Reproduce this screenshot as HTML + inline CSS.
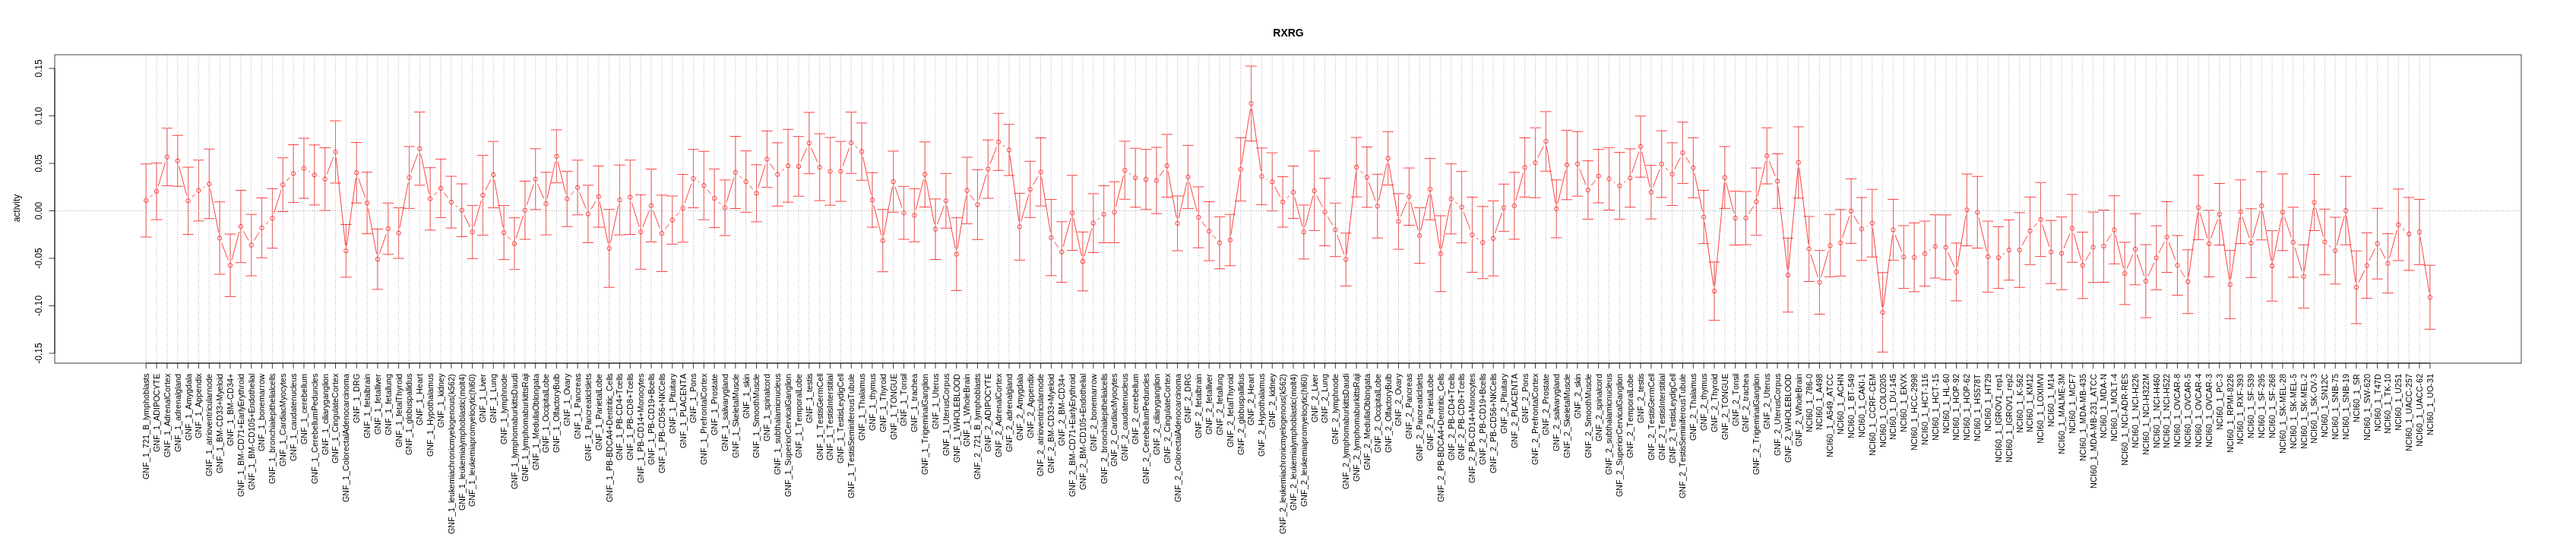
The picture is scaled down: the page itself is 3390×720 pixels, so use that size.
<!DOCTYPE html>
<html><head><meta charset="utf-8"><style>html,body{margin:0;padding:0;background:#fff;}body{width:3390px;height:720px;overflow:hidden;font-family:"Liberation Sans",sans-serif;}svg{display:block;}</style></head>
<body><svg width="3390" height="720" viewBox="0 0 3390 720"><rect x="0" y="0" width="3390" height="720" fill="#fff"/><path d="M192.20 215.80V312.00M184.90 215.80H199.50M184.90 312.00H199.50M206.05 214.70V289.10M198.75 214.70H213.35M198.75 289.10H213.35M219.90 168.70V244.30M212.60 168.70H227.20M212.60 244.30H227.20M233.75 178.20V245.20M226.45 178.20H241.05M226.45 245.20H241.05M247.60 220.00V308.60M240.30 220.00H254.90M240.30 308.60H254.90M261.45 210.70V290.90M254.15 210.70H268.75M254.15 290.90H268.75M275.31 196.20V287.80M268.01 196.20H282.61M268.01 287.80H282.61M289.16 265.80V361.00M281.86 265.80H296.46M281.86 361.00H296.46M303.01 308.10V390.50M295.71 308.10H310.31M295.71 390.50H310.31M316.86 250.50V345.70M309.56 250.50H324.16M309.56 345.70H324.16M330.71 282.20V363.00M323.41 282.20H338.01M323.41 363.00H338.01M344.56 260.50V339.30M337.26 260.50H351.86M337.26 339.30H351.86M358.41 248.30V326.70M351.11 248.30H365.71M351.11 326.70H365.71M372.26 207.70V278.50M364.96 207.70H379.56M364.96 278.50H379.56M386.11 190.50V266.50M378.81 190.50H393.41M378.81 266.50H393.41M399.97 182.00V261.00M392.67 182.00H407.27M392.67 261.00H407.27M413.82 190.80V269.80M406.52 190.80H421.12M406.52 269.80H421.12M427.67 194.50V277.10M420.37 194.50H434.97M420.37 277.10H434.97M441.52 159.00V241.00M434.22 159.00H448.82M434.22 241.00H448.82M455.37 295.50V364.90M448.07 295.50H462.67M448.07 364.90H462.67M469.22 187.60V267.20M461.92 187.60H476.52M461.92 267.20H476.52M483.07 226.70V307.70M475.77 226.70H490.37M475.77 307.70H490.37M496.92 301.50V380.90M489.62 301.50H504.22M489.62 380.90H504.22M510.77 267.20V334.80M503.47 267.20H518.07M503.47 334.80H518.07M524.62 273.50V340.10M517.32 273.50H531.92M517.32 340.10H531.92M538.48 192.90V274.30M531.18 192.90H545.77M531.18 274.30H545.77M552.33 147.40V243.80M545.03 147.40H559.63M545.03 243.80H559.63M566.18 220.70V302.90M558.88 220.70H573.48M558.88 302.90H573.48M580.03 209.40V286.40M572.73 209.40H587.33M572.73 286.40H587.33M593.88 232.00V300.20M586.58 232.00H601.18M586.58 300.20H601.18M607.73 242.00V311.40M600.43 242.00H615.03M600.43 311.40H615.03M621.58 270.40V340.40M614.28 270.40H628.88M614.28 340.40H628.88M635.43 204.40V309.60M628.13 204.40H642.73M628.13 309.60H642.73M649.28 186.20V273.60M641.98 186.20H656.58M641.98 273.60H656.58M663.13 270.50V341.70M655.83 270.50H670.43M655.83 341.70H670.43M676.99 286.70V354.70M669.69 286.70H684.28M669.69 354.70H684.28M690.84 238.40V315.00M683.54 238.40H698.14M683.54 315.00H698.14M704.69 195.80V275.80M697.39 195.80H711.99M697.39 275.80H711.99M718.54 226.80V309.20M711.24 226.80H725.84M711.24 309.20H725.84M732.39 170.90V240.70M725.09 170.90H739.69M725.09 240.70H739.69M746.24 225.40V298.20M738.94 225.40H753.54M738.94 298.20H753.54M760.09 210.80V282.80M752.79 210.80H767.39M752.79 282.80H767.39M773.94 243.80V319.40M766.64 243.80H781.24M766.64 319.40H781.24M787.79 218.50V299.10M780.49 218.50H795.09M780.49 299.10H795.09M801.64 275.70V378.30M794.34 275.70H808.94M794.34 378.30H808.94M815.50 217.20V309.20M808.20 217.20H822.80M808.20 309.20H822.80M829.35 210.70V308.50M822.05 210.70H836.65M822.05 308.50H836.65M843.20 256.40V354.40M835.90 256.40H850.50M835.90 354.40H850.50M857.05 222.50V318.50M849.75 222.50H864.35M849.75 318.50H864.35M870.90 256.90V357.50M863.60 256.90H878.20M863.60 357.50H878.20M884.75 258.00V321.40M877.45 258.00H892.05M877.45 321.40H892.05M898.60 229.60V318.80M891.30 229.60H905.90M891.30 318.80H905.90M912.45 196.70V273.50M905.15 196.70H919.75M905.15 273.50H919.75M926.30 199.20V289.20M919.00 199.20H933.60M919.00 289.20H933.60M940.15 222.40V299.60M932.85 222.40H947.45M932.85 299.60H947.45M954.01 236.90V310.10M946.71 236.90H961.31M946.71 310.10H961.31M967.86 179.50V274.50M960.56 179.50H975.16M960.56 274.50H975.16M981.71 198.60V279.60M974.41 198.60H989.01M974.41 279.60H989.01M995.56 216.80V292.00M988.26 216.80H1002.86M988.26 292.00H1002.86M1009.41 172.40V246.60M1002.11 172.40H1016.71M1002.11 246.60H1016.71M1023.26 187.90V271.30M1015.96 187.90H1030.56M1015.96 271.30H1030.56M1037.11 170.30V266.10M1029.81 170.30H1044.41M1029.81 266.10H1044.41M1050.96 179.70V258.30M1043.66 179.70H1058.26M1043.66 258.30H1058.26M1064.81 147.90V228.70M1057.51 147.90H1072.11M1057.51 228.70H1072.11M1078.66 176.10V264.10M1071.36 176.10H1085.96M1071.36 264.10H1085.96M1092.52 181.00V270.20M1085.22 181.00H1099.82M1085.22 270.20H1099.82M1106.37 186.10V265.10M1099.07 186.10H1113.67M1099.07 265.10H1113.67M1120.22 147.50V228.30M1112.92 147.50H1127.52M1112.92 228.30H1127.52M1134.07 161.90V237.30M1126.77 161.90H1141.37M1126.77 237.30H1141.37M1147.92 227.30V299.10M1140.62 227.30H1155.22M1140.62 299.10H1155.22M1161.77 275.70V357.70M1154.47 275.70H1169.07M1154.47 357.70H1169.07M1175.62 198.90V279.30M1168.32 198.90H1182.92M1168.32 279.30H1182.92M1189.47 245.40V315.00M1182.17 245.40H1196.77M1182.17 315.00H1196.77M1203.32 248.40V318.40M1196.02 248.40H1210.62M1196.02 318.40H1210.62M1217.17 186.80V272.40M1209.87 186.80H1224.47M1209.87 272.40H1224.47M1231.03 261.90V341.50M1223.73 261.90H1238.33M1223.73 341.50H1238.33M1244.88 228.30V300.30M1237.58 228.30H1252.18M1237.58 300.30H1252.18M1258.73 286.70V382.50M1251.43 286.70H1266.03M1251.43 382.50H1266.03M1272.58 207.00V294.60M1265.28 207.00H1279.88M1265.28 294.60H1279.88M1286.43 223.40V315.40M1279.13 223.40H1293.73M1279.13 315.40H1293.73M1300.28 184.20V261.00M1292.98 184.20H1307.58M1292.98 261.00H1307.58M1314.13 149.30V224.30M1306.83 149.30H1321.43M1306.83 224.30H1321.43M1327.98 163.80V231.00M1320.68 163.80H1335.28M1320.68 231.00H1335.28M1341.83 254.40V342.40M1334.53 254.40H1349.13M1334.53 342.40H1349.13M1355.68 212.30V286.30M1348.38 212.30H1362.98M1348.38 286.30H1362.98M1369.54 181.50V271.10M1362.24 181.50H1376.84M1362.24 271.10H1376.84M1383.39 262.60V362.80M1376.09 262.60H1390.69M1376.09 362.80H1390.69M1397.24 291.80V371.60M1389.94 291.80H1404.54M1389.94 371.60H1404.54M1411.09 230.80V329.60M1403.79 230.80H1418.39M1403.79 329.60H1418.39M1424.94 305.30V382.90M1417.64 305.30H1432.24M1417.64 382.90H1432.24M1438.79 254.90V332.50M1431.49 254.90H1446.09M1431.49 332.50H1446.09M1452.64 244.50V319.50M1445.34 244.50H1459.94M1445.34 319.50H1459.94M1466.49 239.30V319.50M1459.19 239.30H1473.79M1459.19 319.50H1473.79M1480.34 185.90V262.30M1473.04 185.90H1487.64M1473.04 262.30H1487.64M1494.19 195.20V272.80M1486.89 195.20H1501.49M1486.89 272.80H1501.49M1508.05 196.70V275.70M1500.75 196.70H1515.35M1500.75 275.70H1515.35M1521.90 194.00V281.20M1514.60 194.00H1529.20M1514.60 281.20H1529.20M1535.75 176.90V259.50M1528.45 176.90H1543.05M1528.45 259.50H1543.05M1549.60 258.00V330.00M1542.30 258.00H1556.90M1542.30 330.00H1556.90M1563.45 191.40V274.40M1556.15 191.40H1570.75M1556.15 274.40H1570.75M1577.30 245.90V326.10M1570.00 245.90H1584.60M1570.00 326.10H1584.60M1591.15 265.50V343.10M1583.85 265.50H1598.45M1583.85 343.10H1598.45M1605.00 285.40V353.80M1597.70 285.40H1612.30M1597.70 353.80H1612.30M1618.85 282.20V349.80M1611.55 282.20H1626.15M1611.55 349.80H1626.15M1632.70 181.30V264.70M1625.40 181.30H1640.00M1625.40 264.70H1640.00M1646.56 87.00V185.60M1639.26 87.00H1653.86M1639.26 185.60H1653.86M1660.41 194.80V269.40M1653.11 194.80H1667.71M1653.11 269.40H1667.71M1674.26 201.10V277.70M1666.96 201.10H1681.56M1666.96 277.70H1681.56M1688.11 232.60V299.00M1680.81 232.60H1695.41M1680.81 299.00H1695.41M1701.96 218.60V287.40M1694.66 218.60H1709.26M1694.66 287.40H1709.26M1715.81 269.90V340.90M1708.51 269.90H1723.11M1708.51 340.90H1723.11M1729.66 198.80V303.40M1722.36 198.80H1736.96M1722.36 303.40H1736.96M1743.51 234.60V323.60M1736.21 234.60H1750.81M1736.21 323.60H1750.81M1757.36 267.30V337.70M1750.06 267.30H1764.66M1750.06 337.70H1764.66M1771.21 306.80V376.40M1763.91 306.80H1778.51M1763.91 376.40H1778.51M1785.07 181.00V259.20M1777.77 181.00H1792.37M1777.77 259.20H1792.37M1798.92 193.50V272.90M1791.62 193.50H1806.22M1791.62 272.90H1806.22M1812.77 229.30V313.30M1805.47 229.30H1820.07M1805.47 313.30H1820.07M1826.62 173.30V243.50M1819.32 173.30H1833.92M1819.32 243.50H1833.92M1840.47 254.90V328.10M1833.17 254.90H1847.77M1833.17 328.10H1847.77M1854.32 221.10V296.50M1847.02 221.10H1861.62M1847.02 296.50H1861.62M1868.17 273.50V346.70M1860.87 273.50H1875.47M1860.87 346.70H1875.47M1882.02 208.70V289.30M1874.72 208.70H1889.32M1874.72 289.30H1889.32M1895.87 284.00V383.80M1888.57 284.00H1903.17M1888.57 383.80H1903.17M1909.72 215.70V307.90M1902.42 215.70H1917.02M1902.42 307.90H1917.02M1923.58 225.70V319.70M1916.28 225.70H1930.88M1916.28 319.70H1930.88M1937.43 259.60V358.40M1930.13 259.60H1944.73M1930.13 358.40H1944.73M1951.28 271.80V366.80M1943.98 271.80H1958.58M1943.98 366.80H1958.58M1965.13 264.40V363.20M1957.83 264.40H1972.43M1957.83 363.20H1972.43M1978.98 242.30V304.70M1971.68 242.30H1986.28M1971.68 304.70H1986.28M1992.83 226.90V314.90M1985.53 226.90H2000.13M1985.53 314.90H2000.13M2006.68 181.40V259.40M1999.38 181.40H2013.98M1999.38 259.40H2013.98M2020.53 168.20V260.20M2013.23 168.20H2027.83M2013.23 260.20H2027.83M2034.38 146.90V225.30M2027.08 146.90H2041.68M2027.08 225.30H2041.68M2048.23 236.80V313.00M2040.93 236.80H2055.53M2040.93 313.00H2055.53M2062.09 171.40V262.80M2054.78 171.40H2069.39M2054.78 262.80H2069.39M2075.94 173.20V258.20M2068.64 173.20H2083.24M2068.64 258.20H2083.24M2089.79 211.70V288.50M2082.49 211.70H2097.09M2082.49 288.50H2097.09M2103.64 196.60V267.00M2096.34 196.60H2110.94M2096.34 267.00H2110.94M2117.49 194.30V276.50M2110.19 194.30H2124.79M2110.19 276.50H2124.79M2131.34 200.60V288.60M2124.04 200.60H2138.64M2124.04 288.60H2138.64M2145.19 195.90V272.70M2137.89 195.90H2152.49M2137.89 272.70H2152.49M2159.04 152.80V233.20M2151.74 152.80H2166.34M2151.74 233.20H2166.34M2172.89 217.70V288.30M2165.59 217.70H2180.19M2165.59 288.30H2180.19M2186.74 172.10V259.90M2179.44 172.10H2194.04M2179.44 259.90H2194.04M2200.60 187.90V270.50M2193.30 187.90H2207.90M2193.30 270.50H2207.90M2214.45 160.80V241.40M2207.15 160.80H2221.75M2207.15 241.40H2221.75M2228.30 181.30V260.30M2221.00 181.30H2235.60M2221.00 260.30H2235.60M2242.15 250.60V320.60M2234.85 250.60H2249.45M2234.85 320.60H2249.45M2256.00 344.90V421.70M2248.70 344.90H2263.30M2248.70 421.70H2263.30M2269.85 192.90V274.30M2262.55 192.90H2277.15M2262.55 274.30H2277.15M2283.70 251.70V322.50M2276.40 251.70H2291.00M2276.40 322.50H2291.00M2297.55 252.10V322.10M2290.25 252.10H2304.85M2290.25 322.10H2304.85M2311.40 221.10V309.70M2304.10 221.10H2318.70M2304.10 309.70H2318.70M2325.25 168.20V242.00M2317.95 168.20H2332.55M2317.95 242.00H2332.55M2339.11 202.50V274.30M2331.80 202.50H2346.41M2331.80 274.30H2346.41M2352.96 313.40V410.80M2345.66 313.40H2360.26M2345.66 410.80H2360.26M2366.81 166.90V260.90M2359.51 166.90H2374.11M2359.51 260.90H2374.11M2380.66 284.90V370.50M2373.36 284.90H2387.96M2373.36 370.50H2387.96M2394.51 329.70V413.50M2387.21 329.70H2401.81M2387.21 413.50H2401.81M2408.36 282.20V364.40M2401.06 282.20H2415.66M2401.06 364.40H2415.66M2422.21 275.80V363.40M2414.91 275.80H2429.51M2414.91 363.40H2429.51M2436.06 235.30V320.30M2428.76 235.30H2443.36M2428.76 320.30H2443.36M2449.91 260.00V342.80M2442.61 260.00H2457.21M2442.61 342.80H2457.21M2463.76 249.20V338.20M2456.46 249.20H2471.06M2456.46 338.20H2471.06M2477.61 358.80V463.40M2470.31 358.80H2484.91M2470.31 463.40H2484.91M2491.47 262.40V342.60M2484.17 262.40H2498.77M2484.17 342.60H2498.77M2505.32 297.00V379.60M2498.02 297.00H2512.62M2498.02 379.60H2512.62M2519.17 293.40V384.00M2511.87 293.40H2526.47M2511.87 384.00H2526.47M2533.02 291.10V376.70M2525.72 291.10H2540.32M2525.72 376.70H2540.32M2546.87 282.70V366.10M2539.57 282.70H2554.17M2539.57 366.10H2554.17M2560.72 282.90V368.10M2553.42 282.90H2568.02M2553.42 368.10H2568.02M2574.57 320.00V396.00M2567.27 320.00H2581.87M2567.27 396.00H2581.87M2588.42 229.00V323.60M2581.12 229.00H2595.72M2581.12 323.60H2595.72M2602.27 232.20V326.60M2594.97 232.20H2609.57M2594.97 326.60H2609.57M2616.12 291.10V384.70M2608.82 291.10H2623.43M2608.82 384.70H2623.43M2629.98 298.40V379.60M2622.68 298.40H2637.28M2622.68 379.60H2637.28M2643.83 289.40V368.80M2636.53 289.40H2651.13M2636.53 368.80H2651.13M2657.68 279.90V378.30M2650.38 279.90H2664.98M2650.38 378.30H2664.98M2671.53 259.40V348.40M2664.23 259.40H2678.83M2664.23 348.40H2678.83M2685.38 240.20V337.60M2678.08 240.20H2692.68M2678.08 337.60H2692.68M2699.23 290.20V373.20M2691.93 290.20H2706.53M2691.93 373.20H2706.53M2713.08 285.60V381.40M2705.78 285.60H2720.38M2705.78 381.40H2720.38M2726.93 255.90V345.30M2719.63 255.90H2734.23M2719.63 345.30H2734.23M2740.78 305.60V393.00M2733.48 305.60H2748.08M2733.48 393.00H2748.08M2754.63 279.10V371.90M2747.33 279.10H2761.93M2747.33 371.90H2761.93M2768.49 276.50V371.50M2761.19 276.50H2775.79M2761.19 371.50H2775.79M2782.34 257.70V347.30M2775.04 257.70H2789.64M2775.04 347.30H2789.64M2796.19 318.90V400.90M2788.89 318.90H2803.49M2788.89 400.90H2803.49M2810.04 281.30V374.90M2802.74 281.30H2817.34M2802.74 374.90H2817.34M2823.89 322.00V418.20M2816.59 322.00H2831.19M2816.59 418.20H2831.19M2837.74 297.20V381.60M2830.44 297.20H2845.04M2830.44 381.60H2845.04M2851.59 265.50V358.50M2844.29 265.50H2858.89M2844.29 358.50H2858.89M2865.44 310.00V388.60M2858.14 310.00H2872.74M2858.14 388.60H2872.74M2879.29 328.80V412.80M2871.99 328.80H2886.59M2871.99 412.80H2886.59M2893.14 230.60V315.60M2885.84 230.60H2900.45M2885.84 315.60H2900.45M2907.00 276.90V364.50M2899.70 276.90H2914.30M2899.70 364.50H2914.30M2920.85 241.50V322.50M2913.55 241.50H2928.15M2913.55 322.50H2928.15M2934.70 329.70V419.30M2927.40 329.70H2942.00M2927.40 419.30H2942.00M2948.55 236.80V320.60M2941.25 236.80H2955.85M2941.25 320.60H2955.85M2962.40 274.80V365.20M2955.10 274.80H2969.70M2955.10 365.20H2969.70M2976.25 226.00V315.80M2968.95 226.00H2983.55M2968.95 315.80H2983.55M2990.10 303.60V396.40M2982.80 303.60H2997.40M2982.80 396.40H2997.40M3003.95 228.90V329.90M2996.65 228.90H3011.25M2996.65 329.90H3011.25M3017.80 272.80V365.00M3010.50 272.80H3025.10M3010.50 365.00H3025.10M3031.66 322.20V405.60M3024.36 322.20H3038.96M3024.36 405.60H3038.96M3045.51 229.50V303.50M3038.21 229.50H3052.81M3038.21 303.50H3052.81M3059.36 275.30V361.70M3052.06 275.30H3066.66M3052.06 361.70H3066.66M3073.21 286.00V373.80M3065.91 286.00H3080.51M3065.91 373.80H3080.51M3087.06 232.20V322.20M3079.76 232.20H3094.36M3079.76 322.20H3094.36M3100.91 330.20V426.00M3093.61 330.20H3108.21M3093.61 426.00H3108.21M3114.76 306.60V392.60M3107.46 306.60H3122.06M3107.46 392.60H3122.06M3128.61 274.20V367.20M3121.31 274.20H3135.91M3121.31 367.20H3135.91M3142.46 307.70V385.70M3135.16 307.70H3149.76M3135.16 385.70H3149.76M3156.31 248.80V343.00M3149.01 248.80H3163.61M3149.01 343.00H3163.61M3170.16 259.90V355.90M3162.86 259.90H3177.47M3162.86 355.90H3177.47M3184.02 262.40V348.40M3176.72 262.40H3191.32M3176.72 348.40H3191.32M3197.87 349.20V433.40M3190.57 349.20H3205.17M3190.57 433.40H3205.17M197.64 259.19L200.61 256.61M208.15 245.01L217.80 213.39M226.64 209.03L227.01 209.17M235.59 218.66L245.77 257.34M252.76 259.27L256.30 255.83M267.53 246.94L269.23 245.86M276.68 249.07L287.79 306.33M291.75 320.12L300.42 342.58M304.89 342.35L314.98 305.05M320.40 304.37L327.17 316.33M334.46 316.45L340.81 306.05M349.93 295.10L353.05 292.30M360.56 280.63L370.12 249.97M377.22 237.88L381.16 233.72M392.54 225.25L393.54 224.75M406.04 225.36L407.74 226.44M420.51 232.96L420.98 233.14M430.27 229.09L438.92 206.71M442.28 207.16L454.61 323.04M456.33 323.06L468.26 234.54M471.59 234.20L480.70 260.40M484.40 274.28L495.60 334.12M499.27 334.39L508.43 307.81M517.41 303.78L517.98 304.02M525.96 299.73L537.14 240.67M540.94 226.84L549.86 202.36M553.80 202.65L564.70 254.75M571.26 256.70L574.95 253.00M584.39 253.63L589.52 260.37M599.60 270.48L602.01 272.32M610.86 283.18L618.45 298.92M623.56 298.48L633.45 263.92M638.71 250.59L646.01 236.31M650.57 236.98L661.85 299.02M668.09 311.32L672.03 315.48M679.15 313.83L688.67 283.57M693.15 269.88L702.38 242.62M707.53 242.41L715.69 261.39M720.10 260.97L730.82 212.83M734.12 212.79L744.51 254.81M751.12 256.51L755.21 252.09M762.75 253.49L771.28 274.91M777.68 275.45L784.05 264.95M789.23 265.86L800.21 319.94M803.17 319.96L813.97 270.24M831.43 266.49L841.11 298.51M845.85 298.71L854.39 277.19M859.59 277.24L868.36 300.46M875.37 301.55L880.28 295.35M889.55 284.33L893.80 279.57M901.01 267.41L910.05 241.89M918.47 239.05L920.29 240.25M930.88 249.76L935.57 255.44M945.50 265.82L948.66 268.68M956.06 266.60L965.80 233.90M973.28 231.74L976.28 234.36M986.54 244.44L990.73 249.06M997.68 247.52L1007.29 216.38M1013.49 215.43L1019.17 223.67M1028.82 225.02L1031.55 222.78M1053.92 212.44L1061.85 194.86M1067.69 194.90L1075.79 213.50M1085.36 222.76L1085.82 222.94M1108.85 218.84L1117.73 194.66M1125.72 192.55L1128.57 194.95M1135.60 206.64L1146.39 256.16M1149.72 270.17L1159.97 309.73M1163.04 309.61L1174.36 246.19M1177.92 245.92L1187.17 273.38M1205.12 276.43L1215.38 236.57M1218.53 236.67L1229.67 294.63M1233.53 294.95L1242.38 271.05M1246.27 271.36L1257.34 327.54M1259.90 327.50L1271.40 257.90M1276.88 256.57L1282.13 263.63M1288.47 262.50L1298.24 229.50M1302.88 215.89L1311.53 193.51M1319.85 191.18L1322.26 193.02M1328.96 204.53L1340.85 291.27M1343.79 291.47L1353.73 256.23M1359.40 243.13L1365.82 232.47M1370.67 233.41L1382.25 305.59M1387.63 318.52L1393.00 325.88M1399.11 324.75L1409.22 287.15M1412.61 287.24L1423.41 337.06M1426.85 337.16L1436.88 300.64M1444.29 289.05L1447.14 286.65M1468.24 272.42L1478.59 231.08M1486.20 228.29L1488.34 229.81M1526.08 231.74L1531.56 224.06M1537.04 225.28L1548.30 286.92M1551.19 286.98L1561.86 239.92M1565.27 239.87L1575.48 279.03M1581.65 291.74L1586.81 298.56M1595.98 309.64L1600.17 314.26M1619.91 308.88L1631.64 230.12M1633.84 215.89L1645.42 143.41M1647.59 143.43L1659.38 224.97M1666.78 235.46L1667.89 236.04M1677.60 245.78L1684.76 259.42M1693.40 260.91L1696.67 257.89M1703.80 259.96L1713.97 298.44M1717.59 298.42L1727.88 258.08M1732.85 257.55L1740.32 272.65M1747.18 285.30L1753.70 296.30M1759.77 309.29L1768.81 334.81M1772.03 334.45L1784.25 227.25M1790.30 225.05L1793.68 228.25M1801.38 239.97L1810.31 264.53M1814.32 264.27L1825.07 215.43M1827.80 215.50L1839.29 284.40M1843.28 284.87L1851.51 265.43M1856.20 265.75L1866.29 303.15M1869.76 303.08L1880.43 256.02M1883.18 256.11L1894.71 326.79M1897.23 326.83L1908.37 268.87M1915.38 266.25L1917.92 268.25M1926.14 279.43L1934.86 302.27M1943.20 313.30L1945.50 315.00M1957.97 316.64L1958.44 316.46M1967.47 306.99L1976.64 280.31M1994.73 263.96L2004.78 227.34M2013.25 217.46L2013.96 217.14M2023.72 207.74L2031.20 192.56M2035.49 193.21L2047.12 267.79M2049.91 267.90L2060.41 224.10M2078.63 222.38L2087.10 243.42M2094.13 244.36L2099.29 237.54M2123.49 239.38L2125.34 240.62M2137.12 240.30L2139.41 238.60M2147.48 227.47L2156.75 199.83M2160.66 200.02L2171.27 245.98M2175.42 246.26L2184.22 222.74M2191.96 220.97L2195.38 224.23M2203.78 222.74L2211.26 207.56M2218.59 206.99L2224.16 214.91M2229.80 227.84L2240.64 278.56M2243.16 292.73L2254.99 376.17M2256.66 376.13L2269.19 240.77M2271.65 240.57L2281.90 280.13M2301.43 281.03L2307.53 271.47M2313.01 258.38L2323.64 212.12M2328.02 211.75L2336.34 231.75M2339.91 245.56L2352.15 354.94M2353.63 354.93L2366.14 221.07M2367.68 221.05L2379.79 320.55M2382.82 334.57L2392.34 364.73M2396.49 364.68L2406.38 330.22M2424.48 312.77L2433.80 284.63M2439.71 284.01L2446.27 295.19M2456.21 297.90L2457.47 297.20M2464.61 300.85L2476.77 403.95M2478.53 403.96L2490.56 309.64M2494.06 309.21L2502.72 331.59M2525.97 336.34L2526.22 336.26M2538.96 329.83L2540.93 328.47M2563.54 332.12L2571.75 351.38M2575.78 350.90L2587.22 283.40M2603.93 286.41L2614.47 330.89M2635.83 334.81L2637.97 333.29M2661.15 322.79L2668.06 310.21M2676.41 298.61L2680.50 294.19M2687.60 295.75L2697.01 324.85M2715.88 326.86L2724.14 307.24M2728.90 307.53L2738.81 342.37M2744.41 343.08L2751.01 331.72M2772.39 317.95L2778.44 308.55M2784.03 309.50L2794.50 352.90M2799.06 353.30L2807.16 334.70M2812.29 334.94L2821.64 363.26M2826.85 363.54L2834.78 345.96M2840.99 332.97L2848.34 318.43M2854.10 318.75L2862.94 342.55M2869.34 355.35L2875.39 364.75M2880.30 363.67L2892.13 280.23M2895.16 280.01L2904.98 313.79M2909.42 313.92L2918.42 288.78M2921.91 289.12L2933.63 367.38M2935.73 367.37L2947.52 285.83M2950.84 285.53L2960.11 313.17M2964.35 313.07L2974.30 277.83M2977.49 277.99L2988.86 342.91M2991.49 342.93L3002.57 286.47M3006.34 286.19L3015.42 312.11M3019.92 325.78L3029.54 357.02M3032.67 356.77L3044.49 273.63M3047.36 273.46L3057.50 311.54M3064.92 323.08L3067.65 325.32M3075.04 322.94L3085.23 284.16M3088.04 284.33L3099.93 370.97M3104.06 371.62L3111.61 356.08M3117.87 343.11L3125.50 327.19M3132.00 327.05L3139.08 340.35M3144.36 339.75L3154.42 302.85M3161.76 300.61L3164.72 303.19M3185.16 312.51L3196.72 384.19" stroke="#ff0000" stroke-width="0.75" fill="none"/><g stroke="#ff0000" stroke-width="0.75" fill="none"><circle cx="192.20" cy="263.90" r="2.7"/><circle cx="206.05" cy="251.90" r="2.7"/><circle cx="219.90" cy="206.50" r="2.7"/><circle cx="233.75" cy="211.70" r="2.7"/><circle cx="247.60" cy="264.30" r="2.7"/><circle cx="261.45" cy="250.80" r="2.7"/><circle cx="275.31" cy="242.00" r="2.7"/><circle cx="289.16" cy="313.40" r="2.7"/><circle cx="303.01" cy="349.30" r="2.7"/><circle cx="316.86" cy="298.10" r="2.7"/><circle cx="330.71" cy="322.60" r="2.7"/><circle cx="344.56" cy="299.90" r="2.7"/><circle cx="358.41" cy="287.50" r="2.7"/><circle cx="372.26" cy="243.10" r="2.7"/><circle cx="386.11" cy="228.50" r="2.7"/><circle cx="399.97" cy="221.50" r="2.7"/><circle cx="413.82" cy="230.30" r="2.7"/><circle cx="427.67" cy="235.80" r="2.7"/><circle cx="441.52" cy="200.00" r="2.7"/><circle cx="455.37" cy="330.20" r="2.7"/><circle cx="469.22" cy="227.40" r="2.7"/><circle cx="483.07" cy="267.20" r="2.7"/><circle cx="496.92" cy="341.20" r="2.7"/><circle cx="510.77" cy="301.00" r="2.7"/><circle cx="524.62" cy="306.80" r="2.7"/><circle cx="538.48" cy="233.60" r="2.7"/><circle cx="552.33" cy="195.60" r="2.7"/><circle cx="566.18" cy="261.80" r="2.7"/><circle cx="580.03" cy="247.90" r="2.7"/><circle cx="593.88" cy="266.10" r="2.7"/><circle cx="607.73" cy="276.70" r="2.7"/><circle cx="621.58" cy="305.40" r="2.7"/><circle cx="635.43" cy="257.00" r="2.7"/><circle cx="649.28" cy="229.90" r="2.7"/><circle cx="663.13" cy="306.10" r="2.7"/><circle cx="676.99" cy="320.70" r="2.7"/><circle cx="690.84" cy="276.70" r="2.7"/><circle cx="704.69" cy="235.80" r="2.7"/><circle cx="718.54" cy="268.00" r="2.7"/><circle cx="732.39" cy="205.80" r="2.7"/><circle cx="746.24" cy="261.80" r="2.7"/><circle cx="760.09" cy="246.80" r="2.7"/><circle cx="773.94" cy="281.60" r="2.7"/><circle cx="787.79" cy="258.80" r="2.7"/><circle cx="801.64" cy="327.00" r="2.7"/><circle cx="815.50" cy="263.20" r="2.7"/><circle cx="829.35" cy="259.60" r="2.7"/><circle cx="843.20" cy="305.40" r="2.7"/><circle cx="857.05" cy="270.50" r="2.7"/><circle cx="870.90" cy="307.20" r="2.7"/><circle cx="884.75" cy="289.70" r="2.7"/><circle cx="898.60" cy="274.20" r="2.7"/><circle cx="912.45" cy="235.10" r="2.7"/><circle cx="926.30" cy="244.20" r="2.7"/><circle cx="940.15" cy="261.00" r="2.7"/><circle cx="954.01" cy="273.50" r="2.7"/><circle cx="967.86" cy="227.00" r="2.7"/><circle cx="981.71" cy="239.10" r="2.7"/><circle cx="995.56" cy="254.40" r="2.7"/><circle cx="1009.41" cy="209.50" r="2.7"/><circle cx="1023.26" cy="229.60" r="2.7"/><circle cx="1037.11" cy="218.20" r="2.7"/><circle cx="1050.96" cy="219.00" r="2.7"/><circle cx="1064.81" cy="188.30" r="2.7"/><circle cx="1078.66" cy="220.10" r="2.7"/><circle cx="1092.52" cy="225.60" r="2.7"/><circle cx="1106.37" cy="225.60" r="2.7"/><circle cx="1120.22" cy="187.90" r="2.7"/><circle cx="1134.07" cy="199.60" r="2.7"/><circle cx="1147.92" cy="263.20" r="2.7"/><circle cx="1161.77" cy="316.70" r="2.7"/><circle cx="1175.62" cy="239.10" r="2.7"/><circle cx="1189.47" cy="280.20" r="2.7"/><circle cx="1203.32" cy="283.40" r="2.7"/><circle cx="1217.17" cy="229.60" r="2.7"/><circle cx="1231.03" cy="301.70" r="2.7"/><circle cx="1244.88" cy="264.30" r="2.7"/><circle cx="1258.73" cy="334.60" r="2.7"/><circle cx="1272.58" cy="250.80" r="2.7"/><circle cx="1286.43" cy="269.40" r="2.7"/><circle cx="1300.28" cy="222.60" r="2.7"/><circle cx="1314.13" cy="186.80" r="2.7"/><circle cx="1327.98" cy="197.40" r="2.7"/><circle cx="1341.83" cy="298.40" r="2.7"/><circle cx="1355.68" cy="249.30" r="2.7"/><circle cx="1369.54" cy="226.30" r="2.7"/><circle cx="1383.39" cy="312.70" r="2.7"/><circle cx="1397.24" cy="331.70" r="2.7"/><circle cx="1411.09" cy="280.20" r="2.7"/><circle cx="1424.94" cy="344.10" r="2.7"/><circle cx="1438.79" cy="293.70" r="2.7"/><circle cx="1452.64" cy="282.00" r="2.7"/><circle cx="1466.49" cy="279.40" r="2.7"/><circle cx="1480.34" cy="224.10" r="2.7"/><circle cx="1494.19" cy="234.00" r="2.7"/><circle cx="1508.05" cy="236.20" r="2.7"/><circle cx="1521.90" cy="237.60" r="2.7"/><circle cx="1535.75" cy="218.20" r="2.7"/><circle cx="1549.60" cy="294.00" r="2.7"/><circle cx="1563.45" cy="232.90" r="2.7"/><circle cx="1577.30" cy="286.00" r="2.7"/><circle cx="1591.15" cy="304.30" r="2.7"/><circle cx="1605.00" cy="319.60" r="2.7"/><circle cx="1618.85" cy="316.00" r="2.7"/><circle cx="1632.70" cy="223.00" r="2.7"/><circle cx="1646.56" cy="136.30" r="2.7"/><circle cx="1660.41" cy="232.10" r="2.7"/><circle cx="1674.26" cy="239.40" r="2.7"/><circle cx="1688.11" cy="265.80" r="2.7"/><circle cx="1701.96" cy="253.00" r="2.7"/><circle cx="1715.81" cy="305.40" r="2.7"/><circle cx="1729.66" cy="251.10" r="2.7"/><circle cx="1743.51" cy="279.10" r="2.7"/><circle cx="1757.36" cy="302.50" r="2.7"/><circle cx="1771.21" cy="341.60" r="2.7"/><circle cx="1785.07" cy="220.10" r="2.7"/><circle cx="1798.92" cy="233.20" r="2.7"/><circle cx="1812.77" cy="271.30" r="2.7"/><circle cx="1826.62" cy="208.40" r="2.7"/><circle cx="1840.47" cy="291.50" r="2.7"/><circle cx="1854.32" cy="258.80" r="2.7"/><circle cx="1868.17" cy="310.10" r="2.7"/><circle cx="1882.02" cy="249.00" r="2.7"/><circle cx="1895.87" cy="333.90" r="2.7"/><circle cx="1909.72" cy="261.80" r="2.7"/><circle cx="1923.58" cy="272.70" r="2.7"/><circle cx="1937.43" cy="309.00" r="2.7"/><circle cx="1951.28" cy="319.30" r="2.7"/><circle cx="1965.13" cy="313.80" r="2.7"/><circle cx="1978.98" cy="273.50" r="2.7"/><circle cx="1992.83" cy="270.90" r="2.7"/><circle cx="2006.68" cy="220.40" r="2.7"/><circle cx="2020.53" cy="214.20" r="2.7"/><circle cx="2034.38" cy="186.10" r="2.7"/><circle cx="2048.23" cy="274.90" r="2.7"/><circle cx="2062.09" cy="217.10" r="2.7"/><circle cx="2075.94" cy="215.70" r="2.7"/><circle cx="2089.79" cy="250.10" r="2.7"/><circle cx="2103.64" cy="231.80" r="2.7"/><circle cx="2117.49" cy="235.40" r="2.7"/><circle cx="2131.34" cy="244.60" r="2.7"/><circle cx="2145.19" cy="234.30" r="2.7"/><circle cx="2159.04" cy="193.00" r="2.7"/><circle cx="2172.89" cy="253.00" r="2.7"/><circle cx="2186.74" cy="216.00" r="2.7"/><circle cx="2200.60" cy="229.20" r="2.7"/><circle cx="2214.45" cy="201.10" r="2.7"/><circle cx="2228.30" cy="220.80" r="2.7"/><circle cx="2242.15" cy="285.60" r="2.7"/><circle cx="2256.00" cy="383.30" r="2.7"/><circle cx="2269.85" cy="233.60" r="2.7"/><circle cx="2283.70" cy="287.10" r="2.7"/><circle cx="2297.55" cy="287.10" r="2.7"/><circle cx="2311.40" cy="265.40" r="2.7"/><circle cx="2325.25" cy="205.10" r="2.7"/><circle cx="2339.11" cy="238.40" r="2.7"/><circle cx="2352.96" cy="362.10" r="2.7"/><circle cx="2366.81" cy="213.90" r="2.7"/><circle cx="2380.66" cy="327.70" r="2.7"/><circle cx="2394.51" cy="371.60" r="2.7"/><circle cx="2408.36" cy="323.30" r="2.7"/><circle cx="2422.21" cy="319.60" r="2.7"/><circle cx="2436.06" cy="277.80" r="2.7"/><circle cx="2449.91" cy="301.40" r="2.7"/><circle cx="2463.76" cy="293.70" r="2.7"/><circle cx="2477.61" cy="411.10" r="2.7"/><circle cx="2491.47" cy="302.50" r="2.7"/><circle cx="2505.32" cy="338.30" r="2.7"/><circle cx="2519.17" cy="338.70" r="2.7"/><circle cx="2533.02" cy="333.90" r="2.7"/><circle cx="2546.87" cy="324.40" r="2.7"/><circle cx="2560.72" cy="325.50" r="2.7"/><circle cx="2574.57" cy="358.00" r="2.7"/><circle cx="2588.42" cy="276.30" r="2.7"/><circle cx="2602.27" cy="279.40" r="2.7"/><circle cx="2616.12" cy="337.90" r="2.7"/><circle cx="2629.98" cy="339.00" r="2.7"/><circle cx="2643.83" cy="329.10" r="2.7"/><circle cx="2657.68" cy="329.10" r="2.7"/><circle cx="2671.53" cy="303.90" r="2.7"/><circle cx="2685.38" cy="288.90" r="2.7"/><circle cx="2699.23" cy="331.70" r="2.7"/><circle cx="2713.08" cy="333.50" r="2.7"/><circle cx="2726.93" cy="300.60" r="2.7"/><circle cx="2740.78" cy="349.30" r="2.7"/><circle cx="2754.63" cy="325.50" r="2.7"/><circle cx="2768.49" cy="324.00" r="2.7"/><circle cx="2782.34" cy="302.50" r="2.7"/><circle cx="2796.19" cy="359.90" r="2.7"/><circle cx="2810.04" cy="328.10" r="2.7"/><circle cx="2823.89" cy="370.10" r="2.7"/><circle cx="2837.74" cy="339.40" r="2.7"/><circle cx="2851.59" cy="312.00" r="2.7"/><circle cx="2865.44" cy="349.30" r="2.7"/><circle cx="2879.29" cy="370.80" r="2.7"/><circle cx="2893.14" cy="273.10" r="2.7"/><circle cx="2907.00" cy="320.70" r="2.7"/><circle cx="2920.85" cy="282.00" r="2.7"/><circle cx="2934.70" cy="374.50" r="2.7"/><circle cx="2948.55" cy="278.70" r="2.7"/><circle cx="2962.40" cy="320.00" r="2.7"/><circle cx="2976.25" cy="270.90" r="2.7"/><circle cx="2990.10" cy="350.00" r="2.7"/><circle cx="3003.95" cy="279.40" r="2.7"/><circle cx="3017.80" cy="318.90" r="2.7"/><circle cx="3031.66" cy="363.90" r="2.7"/><circle cx="3045.51" cy="266.50" r="2.7"/><circle cx="3059.36" cy="318.50" r="2.7"/><circle cx="3073.21" cy="329.90" r="2.7"/><circle cx="3087.06" cy="277.20" r="2.7"/><circle cx="3100.91" cy="378.10" r="2.7"/><circle cx="3114.76" cy="349.60" r="2.7"/><circle cx="3128.61" cy="320.70" r="2.7"/><circle cx="3142.46" cy="346.70" r="2.7"/><circle cx="3156.31" cy="295.90" r="2.7"/><circle cx="3170.16" cy="307.90" r="2.7"/><circle cx="3184.02" cy="305.40" r="2.7"/><circle cx="3197.87" cy="391.30" r="2.7"/></g><path d="M192.20 72V478M206.05 72V478M219.90 72V478M233.75 72V478M247.60 72V478M261.45 72V478M275.31 72V478M289.16 72V478M303.01 72V478M316.86 72V478M330.71 72V478M344.56 72V478M358.41 72V478M372.26 72V478M386.11 72V478M399.97 72V478M413.82 72V478M427.67 72V478M441.52 72V478M455.37 72V478M469.22 72V478M483.07 72V478M496.92 72V478M510.77 72V478M524.62 72V478M538.48 72V478M552.33 72V478M566.18 72V478M580.03 72V478M593.88 72V478M607.73 72V478M621.58 72V478M635.43 72V478M649.28 72V478M663.13 72V478M676.99 72V478M690.84 72V478M704.69 72V478M718.54 72V478M732.39 72V478M746.24 72V478M760.09 72V478M773.94 72V478M787.79 72V478M801.64 72V478M815.50 72V478M829.35 72V478M843.20 72V478M857.05 72V478M870.90 72V478M884.75 72V478M898.60 72V478M912.45 72V478M926.30 72V478M940.15 72V478M954.01 72V478M967.86 72V478M981.71 72V478M995.56 72V478M1009.41 72V478M1023.26 72V478M1037.11 72V478M1050.96 72V478M1064.81 72V478M1078.66 72V478M1092.52 72V478M1106.37 72V478M1120.22 72V478M1134.07 72V478M1147.92 72V478M1161.77 72V478M1175.62 72V478M1189.47 72V478M1203.32 72V478M1217.17 72V478M1231.03 72V478M1244.88 72V478M1258.73 72V478M1272.58 72V478M1286.43 72V478M1300.28 72V478M1314.13 72V478M1327.98 72V478M1341.83 72V478M1355.68 72V478M1369.54 72V478M1383.39 72V478M1397.24 72V478M1411.09 72V478M1424.94 72V478M1438.79 72V478M1452.64 72V478M1466.49 72V478M1480.34 72V478M1494.19 72V478M1508.05 72V478M1521.90 72V478M1535.75 72V478M1549.60 72V478M1563.45 72V478M1577.30 72V478M1591.15 72V478M1605.00 72V478M1618.85 72V478M1632.70 72V478M1646.56 72V478M1660.41 72V478M1674.26 72V478M1688.11 72V478M1701.96 72V478M1715.81 72V478M1729.66 72V478M1743.51 72V478M1757.36 72V478M1771.21 72V478M1785.07 72V478M1798.92 72V478M1812.77 72V478M1826.62 72V478M1840.47 72V478M1854.32 72V478M1868.17 72V478M1882.02 72V478M1895.87 72V478M1909.72 72V478M1923.58 72V478M1937.43 72V478M1951.28 72V478M1965.13 72V478M1978.98 72V478M1992.83 72V478M2006.68 72V478M2020.53 72V478M2034.38 72V478M2048.23 72V478M2062.09 72V478M2075.94 72V478M2089.79 72V478M2103.64 72V478M2117.49 72V478M2131.34 72V478M2145.19 72V478M2159.04 72V478M2172.89 72V478M2186.74 72V478M2200.60 72V478M2214.45 72V478M2228.30 72V478M2242.15 72V478M2256.00 72V478M2269.85 72V478M2283.70 72V478M2297.55 72V478M2311.40 72V478M2325.25 72V478M2339.11 72V478M2352.96 72V478M2366.81 72V478M2380.66 72V478M2394.51 72V478M2408.36 72V478M2422.21 72V478M2436.06 72V478M2449.91 72V478M2463.76 72V478M2477.61 72V478M2491.47 72V478M2505.32 72V478M2519.17 72V478M2533.02 72V478M2546.87 72V478M2560.72 72V478M2574.57 72V478M2588.42 72V478M2602.27 72V478M2616.12 72V478M2629.98 72V478M2643.83 72V478M2657.68 72V478M2671.53 72V478M2685.38 72V478M2699.23 72V478M2713.08 72V478M2726.93 72V478M2740.78 72V478M2754.63 72V478M2768.49 72V478M2782.34 72V478M2796.19 72V478M2810.04 72V478M2823.89 72V478M2837.74 72V478M2851.59 72V478M2865.44 72V478M2879.29 72V478M2893.14 72V478M2907.00 72V478M2920.85 72V478M2934.70 72V478M2948.55 72V478M2962.40 72V478M2976.25 72V478M2990.10 72V478M3003.95 72V478M3017.80 72V478M3031.66 72V478M3045.51 72V478M3059.36 72V478M3073.21 72V478M3087.06 72V478M3100.91 72V478M3114.76 72V478M3128.61 72V478M3142.46 72V478M3156.31 72V478M3170.16 72V478M3184.02 72V478M3197.87 72V478" stroke="#b4b4b4" stroke-width="1" stroke-dasharray="1 2" fill="none"/><path d="M72 277.50H3318" stroke="#a0a0a0" stroke-width="1" stroke-dasharray="1 2" stroke-dashoffset="0.15" fill="none"/><rect x="72" y="72" width="3246" height="406" stroke="#000" stroke-width="0.75" fill="none"/><path d="M72 90.00V465.00M64.4 90.00H72M64.4 152.50H72M64.4 215.00H72M64.4 277.50H72M64.4 340.00H72M64.4 402.50H72M64.4 465.00H72M192.20 478H3197.87M192.20 478V485.2M206.05 478V485.2M219.90 478V485.2M233.75 478V485.2M247.60 478V485.2M261.45 478V485.2M275.31 478V485.2M289.16 478V485.2M303.01 478V485.2M316.86 478V485.2M330.71 478V485.2M344.56 478V485.2M358.41 478V485.2M372.26 478V485.2M386.11 478V485.2M399.97 478V485.2M413.82 478V485.2M427.67 478V485.2M441.52 478V485.2M455.37 478V485.2M469.22 478V485.2M483.07 478V485.2M496.92 478V485.2M510.77 478V485.2M524.62 478V485.2M538.48 478V485.2M552.33 478V485.2M566.18 478V485.2M580.03 478V485.2M593.88 478V485.2M607.73 478V485.2M621.58 478V485.2M635.43 478V485.2M649.28 478V485.2M663.13 478V485.2M676.99 478V485.2M690.84 478V485.2M704.69 478V485.2M718.54 478V485.2M732.39 478V485.2M746.24 478V485.2M760.09 478V485.2M773.94 478V485.2M787.79 478V485.2M801.64 478V485.2M815.50 478V485.2M829.35 478V485.2M843.20 478V485.2M857.05 478V485.2M870.90 478V485.2M884.75 478V485.2M898.60 478V485.2M912.45 478V485.2M926.30 478V485.2M940.15 478V485.2M954.01 478V485.2M967.86 478V485.2M981.71 478V485.2M995.56 478V485.2M1009.41 478V485.2M1023.26 478V485.2M1037.11 478V485.2M1050.96 478V485.2M1064.81 478V485.2M1078.66 478V485.2M1092.52 478V485.2M1106.37 478V485.2M1120.22 478V485.2M1134.07 478V485.2M1147.92 478V485.2M1161.77 478V485.2M1175.62 478V485.2M1189.47 478V485.2M1203.32 478V485.2M1217.17 478V485.2M1231.03 478V485.2M1244.88 478V485.2M1258.73 478V485.2M1272.58 478V485.2M1286.43 478V485.2M1300.28 478V485.2M1314.13 478V485.2M1327.98 478V485.2M1341.83 478V485.2M1355.68 478V485.2M1369.54 478V485.2M1383.39 478V485.2M1397.24 478V485.2M1411.09 478V485.2M1424.94 478V485.2M1438.79 478V485.2M1452.64 478V485.2M1466.49 478V485.2M1480.34 478V485.2M1494.19 478V485.2M1508.05 478V485.2M1521.90 478V485.2M1535.75 478V485.2M1549.60 478V485.2M1563.45 478V485.2M1577.30 478V485.2M1591.15 478V485.2M1605.00 478V485.2M1618.85 478V485.2M1632.70 478V485.2M1646.56 478V485.2M1660.41 478V485.2M1674.26 478V485.2M1688.11 478V485.2M1701.96 478V485.2M1715.81 478V485.2M1729.66 478V485.2M1743.51 478V485.2M1757.36 478V485.2M1771.21 478V485.2M1785.07 478V485.2M1798.92 478V485.2M1812.77 478V485.2M1826.62 478V485.2M1840.47 478V485.2M1854.32 478V485.2M1868.17 478V485.2M1882.02 478V485.2M1895.87 478V485.2M1909.72 478V485.2M1923.58 478V485.2M1937.43 478V485.2M1951.28 478V485.2M1965.13 478V485.2M1978.98 478V485.2M1992.83 478V485.2M2006.68 478V485.2M2020.53 478V485.2M2034.38 478V485.2M2048.23 478V485.2M2062.09 478V485.2M2075.94 478V485.2M2089.79 478V485.2M2103.64 478V485.2M2117.49 478V485.2M2131.34 478V485.2M2145.19 478V485.2M2159.04 478V485.2M2172.89 478V485.2M2186.74 478V485.2M2200.60 478V485.2M2214.45 478V485.2M2228.30 478V485.2M2242.15 478V485.2M2256.00 478V485.2M2269.85 478V485.2M2283.70 478V485.2M2297.55 478V485.2M2311.40 478V485.2M2325.25 478V485.2M2339.11 478V485.2M2352.96 478V485.2M2366.81 478V485.2M2380.66 478V485.2M2394.51 478V485.2M2408.36 478V485.2M2422.21 478V485.2M2436.06 478V485.2M2449.91 478V485.2M2463.76 478V485.2M2477.61 478V485.2M2491.47 478V485.2M2505.32 478V485.2M2519.17 478V485.2M2533.02 478V485.2M2546.87 478V485.2M2560.72 478V485.2M2574.57 478V485.2M2588.42 478V485.2M2602.27 478V485.2M2616.12 478V485.2M2629.98 478V485.2M2643.83 478V485.2M2657.68 478V485.2M2671.53 478V485.2M2685.38 478V485.2M2699.23 478V485.2M2713.08 478V485.2M2726.93 478V485.2M2740.78 478V485.2M2754.63 478V485.2M2768.49 478V485.2M2782.34 478V485.2M2796.19 478V485.2M2810.04 478V485.2M2823.89 478V485.2M2837.74 478V485.2M2851.59 478V485.2M2865.44 478V485.2M2879.29 478V485.2M2893.14 478V485.2M2907.00 478V485.2M2920.85 478V485.2M2934.70 478V485.2M2948.55 478V485.2M2962.40 478V485.2M2976.25 478V485.2M2990.10 478V485.2M3003.95 478V485.2M3017.80 478V485.2M3031.66 478V485.2M3045.51 478V485.2M3059.36 478V485.2M3073.21 478V485.2M3087.06 478V485.2M3100.91 478V485.2M3114.76 478V485.2M3128.61 478V485.2M3142.46 478V485.2M3156.31 478V485.2M3170.16 478V485.2M3184.02 478V485.2M3197.87 478V485.2" stroke="#000" stroke-width="0.75" fill="none"/><g font-family="Liberation Sans, sans-serif" fill="#000" style="will-change:transform"><text transform="translate(55.2 90.00) rotate(-90)" text-anchor="middle" font-size="12">0.15</text><text transform="translate(55.2 152.50) rotate(-90)" text-anchor="middle" font-size="12">0.10</text><text transform="translate(55.2 215.00) rotate(-90)" text-anchor="middle" font-size="12">0.05</text><text transform="translate(55.2 277.50) rotate(-90)" text-anchor="middle" font-size="12">0.00</text><text transform="translate(55.2 340.00) rotate(-90)" text-anchor="middle" font-size="12">-0.05</text><text transform="translate(55.2 402.50) rotate(-90)" text-anchor="middle" font-size="12">-0.10</text><text transform="translate(55.2 465.00) rotate(-90)" text-anchor="middle" font-size="12">-0.15</text><text transform="translate(196.10 492.0) rotate(-90)" x="-139 -131 -123 -116 -110 -104 -98 -92 -86 -80 -74 -67 -61 -59 -54 -45 -39 -33 -27 -21 -19 -13 -8 -5" font-size="10.8">GNF_1_721_B_lymphoblasts</text><text transform="translate(209.95 492.0) rotate(-90)" x="-103 -95 -87 -80 -74 -68 -62 -55 -47 -44 -37 -29 -21 -14 -7" font-size="10.8">GNF_1_ADIPOCYTE</text><text transform="translate(223.80 492.0) rotate(-90)" x="-110 -102 -94 -87 -81 -75 -69 -62 -56 -52 -46 -40 -34 -32 -24 -18 -14 -11 -5" font-size="10.8">GNF_1_AdrenalCortex</text><text transform="translate(237.65 492.0) rotate(-90)" x="-103 -95 -87 -80 -74 -68 -62 -56 -50 -46 -40 -34 -28 -26 -20 -18 -12 -6" font-size="10.8">GNF_1_adrenalgland</text><text transform="translate(251.50 492.0) rotate(-90)" x="-88 -80 -72 -65 -59 -53 -47 -40 -31 -26 -20 -14 -8 -6" font-size="10.8">GNF_1_Amygdala</text><text transform="translate(265.35 492.0) rotate(-90)" x="-85 -77 -69 -62 -56 -50 -44 -37 -31 -25 -19 -13 -7 -5" font-size="10.8">GNF_1_Appendix</text><text transform="translate(279.21 492.0) rotate(-90)" x="-135 -127 -119 -112 -106 -100 -94 -88 -85 -81 -79 -73 -68 -62 -56 -53 -49 -47 -42 -36 -34 -28 -24 -18 -12 -6" font-size="10.8">GNF_1_atrioventricularnode</text><text transform="translate(293.06 492.0) rotate(-90)" x="-131 -123 -115 -108 -102 -96 -90 -83 -74 -70 -62 -54 -48 -42 -36 -27 -22 -16 -14 -8 -6" font-size="10.8">GNF_1_BM-CD33+Myeloid</text><text transform="translate(306.91 492.0) rotate(-90)" x="-95 -87 -79 -72 -66 -60 -54 -47 -38 -34 -26 -18 -12 -6" font-size="10.8">GNF_1_BM-CD34+</text><text transform="translate(320.76 492.0) rotate(-90)" x="-162 -154 -146 -139 -133 -127 -121 -114 -105 -101 -93 -85 -79 -73 -67 -60 -54 -50 -48 -43 -36 -32 -27 -24 -18 -14 -8 -6" font-size="10.8">GNF_1_BM-CD71+EarlyErythroid</text><text transform="translate(334.61 492.0) rotate(-90)" x="-153 -145 -137 -130 -124 -118 -112 -105 -96 -92 -84 -76 -70 -64 -58 -52 -45 -39 -33 -27 -24 -18 -12 -10 -8 -2" font-size="10.8">GNF_1_BM-CD105+Endothelial</text><text transform="translate(348.46 492.0) rotate(-90)" x="-102 -94 -86 -79 -73 -67 -61 -55 -49 -43 -37 -28 -22 -18 -14 -8" font-size="10.8">GNF_1_bonemarrow</text><text transform="translate(362.31 492.0) rotate(-90)" x="-145 -137 -129 -122 -116 -110 -104 -98 -94 -88 -82 -77 -71 -69 -63 -61 -55 -49 -47 -44 -38 -32 -30 -28 -22 -20 -15 -9 -7 -5" font-size="10.8">GNF_1_bronchialepithelialcells</text><text transform="translate(376.16 492.0) rotate(-90)" x="-122 -114 -106 -99 -93 -87 -81 -73 -67 -63 -57 -55 -49 -44 -35 -30 -24 -19 -14 -11 -5" font-size="10.8">GNF_1_CardiacMyocytes</text><text transform="translate(390.01 492.0) rotate(-90)" x="-115 -107 -99 -92 -86 -80 -74 -69 -63 -57 -51 -45 -42 -36 -30 -24 -19 -17 -11 -5" font-size="10.8">GNF_1_caudatenucleus</text><text transform="translate(403.87 492.0) rotate(-90)" x="-93 -85 -77 -70 -64 -58 -52 -47 -41 -37 -31 -25 -19 -17 -15 -9" font-size="10.8">GNF_1_cerebellum</text><text transform="translate(417.72 492.0) rotate(-90)" x="-145 -137 -129 -122 -116 -110 -104 -96 -90 -86 -80 -74 -68 -66 -64 -58 -49 -42 -36 -30 -24 -18 -13 -11 -5" font-size="10.8">GNF_1_CerebellumPeduncles</text><text transform="translate(431.57 492.0) rotate(-90)" x="-107 -99 -91 -84 -78 -72 -66 -61 -59 -57 -55 -49 -45 -40 -34 -28 -22 -16 -14 -12 -6" font-size="10.8">GNF_1_ciliaryganglion</text><text transform="translate(445.42 492.0) rotate(-90)" x="-118 -110 -102 -95 -89 -83 -77 -69 -67 -61 -55 -49 -47 -41 -38 -32 -24 -18 -14 -11 -5" font-size="10.8">GNF_1_CingulateCortex</text><text transform="translate(459.27 492.0) rotate(-90)" x="-169 -161 -153 -146 -140 -134 -128 -120 -114 -112 -106 -102 -96 -91 -88 -82 -80 -73 -67 -61 -55 -49 -44 -38 -34 -29 -27 -21 -15 -6" font-size="10.8">GNF_1_ColorectalAdenocarcinoma</text><text transform="translate(473.12 492.0) rotate(-90)" x="-65 -57 -49 -42 -36 -30 -24 -16 -8" font-size="10.8">GNF_1_DRG</text><text transform="translate(486.97 492.0) rotate(-90)" x="-85 -77 -69 -62 -56 -50 -44 -41 -35 -32 -26 -24 -18 -14 -8 -6" font-size="10.8">GNF_1_fetalbrain</text><text transform="translate(500.82 492.0) rotate(-90)" x="-80 -72 -64 -57 -51 -45 -39 -36 -30 -27 -21 -19 -17 -15 -10 -4" font-size="10.8">GNF_1_fetalliver</text><text transform="translate(514.67 492.0) rotate(-90)" x="-81 -73 -65 -58 -52 -46 -40 -37 -31 -28 -22 -20 -18 -12 -6" font-size="10.8">GNF_1_fetallung</text><text transform="translate(528.52 492.0) rotate(-90)" x="-97 -89 -81 -74 -68 -62 -56 -53 -47 -44 -38 -36 -29 -23 -18 -14 -8 -6" font-size="10.8">GNF_1_fetalThyroid</text><text transform="translate(542.38 492.0) rotate(-90)" x="-107 -99 -91 -84 -78 -72 -66 -60 -58 -52 -46 -40 -35 -29 -23 -21 -19 -17 -11 -5" font-size="10.8">GNF_1_globuspallidus</text><text transform="translate(556.23 492.0) rotate(-90)" x="-68 -60 -52 -45 -39 -33 -27 -19 -13 -7 -3" font-size="10.8">GNF_1_Heart</text><text transform="translate(570.08 492.0) rotate(-90)" x="-109 -101 -93 -86 -80 -74 -68 -60 -55 -49 -43 -40 -34 -28 -26 -20 -11 -5" font-size="10.8">GNF_1_Hypothalamus</text><text transform="translate(583.93 492.0) rotate(-90)" x="-71 -63 -55 -48 -42 -36 -30 -25 -23 -17 -11 -5" font-size="10.8">GNF_1_kidney</text><text transform="translate(597.78 492.0) rotate(-90)" x="-211 -203 -195 -188 -182 -176 -170 -168 -162 -156 -151 -145 -136 -134 -128 -123 -117 -113 -107 -101 -99 -94 -85 -80 -74 -72 -66 -60 -54 -48 -42 -36 -31 -27 -22 -16 -10 -4" font-size="10.8">GNF_1_leukemiachronicmyelogenous(k562)</text><text transform="translate(611.63 492.0) rotate(-90)" x="-180 -172 -164 -157 -151 -145 -139 -137 -131 -125 -120 -114 -105 -103 -97 -95 -90 -81 -75 -69 -63 -57 -55 -49 -44 -41 -39 -34 -30 -21 -15 -13 -10 -4" font-size="10.8">GNF_1_leukemialymphoblastic(molt4)</text><text transform="translate(625.48 492.0) rotate(-90)" x="-175 -167 -159 -152 -146 -140 -134 -132 -126 -120 -115 -109 -100 -98 -92 -86 -82 -76 -67 -62 -56 -54 -48 -43 -38 -35 -33 -28 -24 -18 -16 -10 -4" font-size="10.8">GNF_1_leukemiapromyelocytic(hl60)</text><text transform="translate(639.33 492.0) rotate(-90)" x="-64 -56 -48 -41 -35 -29 -23 -17 -15 -10 -4" font-size="10.8">GNF_1_Liver</text><text transform="translate(653.18 492.0) rotate(-90)" x="-65 -57 -49 -42 -36 -30 -24 -18 -12 -6" font-size="10.8">GNF_1_Lung</text><text transform="translate(667.03 492.0) rotate(-90)" x="-93 -85 -77 -70 -64 -58 -52 -50 -45 -36 -30 -24 -18 -12 -6" font-size="10.8">GNF_1_lymphnode</text><text transform="translate(680.88 492.0) rotate(-90)" x="-152 -144 -136 -129 -123 -117 -111 -109 -104 -95 -89 -83 -77 -68 -62 -56 -50 -46 -41 -39 -36 -33 -28 -20 -14 -8 -2" font-size="10.8">GNF_1_lymphomaburkittsDaudi</text><text transform="translate(694.74 492.0) rotate(-90)" x="-142 -134 -126 -119 -113 -107 -101 -99 -94 -85 -79 -73 -67 -58 -52 -46 -40 -36 -31 -29 -26 -23 -18 -10 -4 -2" font-size="10.8">GNF_1_lymphomaburkittsRaji</text><text transform="translate(708.59 492.0) rotate(-90)" x="-127 -119 -111 -104 -98 -92 -86 -77 -71 -65 -59 -57 -55 -49 -41 -35 -33 -27 -21 -15 -9 -6" font-size="10.8">GNF_1_MedullaOblongata</text><text transform="translate(722.44 492.0) rotate(-90)" x="-104 -96 -88 -81 -75 -69 -63 -55 -50 -45 -43 -37 -35 -32 -26 -24 -18 -12 -6" font-size="10.8">GNF_1_OccipitalLobe</text><text transform="translate(736.29 492.0) rotate(-90)" x="-104 -96 -88 -81 -75 -69 -63 -55 -53 -50 -44 -39 -36 -30 -26 -21 -14 -8 -6" font-size="10.8">GNF_1_OlfactoryBulb</text><text transform="translate(750.14 492.0) rotate(-90)" x="-69 -61 -53 -46 -40 -34 -28 -20 -15 -9 -5" font-size="10.8">GNF_1_Ovary</text><text transform="translate(763.99 492.0) rotate(-90)" x="-86 -78 -70 -63 -57 -51 -45 -38 -32 -26 -21 -17 -11 -5" font-size="10.8">GNF_1_Pancreas</text><text transform="translate(777.84 492.0) rotate(-90)" x="-115 -107 -99 -92 -86 -80 -74 -67 -61 -55 -50 -46 -40 -34 -31 -29 -24 -21 -16 -14 -8 -5" font-size="10.8">GNF_1_PancreaticIslets</text><text transform="translate(791.69 492.0) rotate(-90)" x="-101 -93 -85 -78 -72 -66 -60 -53 -47 -43 -41 -35 -32 -26 -24 -18 -12 -6" font-size="10.8">GNF_1_ParietalLobe</text><text transform="translate(805.54 492.0) rotate(-90)" x="-169 -161 -153 -146 -140 -134 -128 -121 -114 -110 -103 -95 -87 -80 -74 -68 -60 -54 -48 -45 -41 -39 -36 -34 -29 -23 -15 -9 -7 -5" font-size="10.8">GNF_1_PB-BDCA4+Dentritic_Cells</text><text transform="translate(819.40 492.0) rotate(-90)" x="-114 -106 -98 -91 -85 -79 -73 -66 -59 -55 -47 -39 -33 -27 -20 -15 -9 -7 -5" font-size="10.8">GNF_1_PB-CD4+Tcells</text><text transform="translate(833.25 492.0) rotate(-90)" x="-114 -106 -98 -91 -85 -79 -73 -66 -59 -55 -47 -39 -33 -27 -20 -15 -9 -7 -5" font-size="10.8">GNF_1_PB-CD8+Tcells</text><text transform="translate(847.10 492.0) rotate(-90)" x="-144 -136 -128 -121 -115 -109 -103 -96 -89 -85 -77 -69 -63 -57 -51 -42 -36 -30 -24 -19 -14 -11 -5" font-size="10.8">GNF_1_PB-CD14+Monocytes</text><text transform="translate(860.95 492.0) rotate(-90)" x="-120 -112 -104 -97 -91 -85 -79 -72 -65 -61 -53 -45 -39 -33 -27 -20 -15 -9 -7 -5" font-size="10.8">GNF_1_PB-CD19+Bcells</text><text transform="translate(874.80 492.0) rotate(-90)" x="-131 -123 -115 -108 -102 -96 -90 -83 -76 -72 -64 -56 -50 -44 -38 -30 -23 -15 -9 -7 -5" font-size="10.8">GNF_1_PB-CD56+NKCells</text><text transform="translate(888.65 492.0) rotate(-90)" x="-79 -71 -63 -56 -50 -44 -38 -31 -29 -26 -20 -18 -15 -9 -5" font-size="10.8">GNF_1_Pituitary</text><text transform="translate(902.50 492.0) rotate(-90)" x="-98 -90 -82 -75 -69 -63 -57 -50 -44 -37 -29 -22 -14 -7" font-size="10.8">GNF_1_PLACENTA</text><text transform="translate(916.35 492.0) rotate(-90)" x="-65 -57 -49 -42 -36 -30 -24 -17 -11 -5" font-size="10.8">GNF_1_Pons</text><text transform="translate(930.20 492.0) rotate(-90)" x="-120 -112 -104 -97 -91 -85 -79 -72 -68 -62 -59 -55 -49 -43 -40 -34 -32 -24 -18 -14 -11 -5" font-size="10.8">GNF_1_PrefrontalCortex</text><text transform="translate(944.05 492.0) rotate(-90)" x="-81 -73 -65 -58 -52 -46 -40 -33 -29 -23 -18 -15 -9 -6" font-size="10.8">GNF_1_Prostate</text><text transform="translate(957.91 492.0) rotate(-90)" x="-102 -94 -86 -79 -73 -67 -61 -56 -50 -48 -46 -41 -35 -31 -26 -20 -18 -12 -6" font-size="10.8">GNF_1_salivarygland</text><text transform="translate(971.76 492.0) rotate(-90)" x="-111 -103 -95 -88 -82 -76 -70 -63 -58 -52 -50 -44 -41 -35 -33 -24 -18 -13 -8 -6" font-size="10.8">GNF_1_SkeletalMuscle</text><text transform="translate(985.61 492.0) rotate(-90)" x="-59 -51 -43 -36 -30 -24 -18 -13 -8 -6" font-size="10.8">GNF_1_skin</text><text transform="translate(999.46 492.0) rotate(-90)" x="-111 -103 -95 -88 -82 -76 -70 -63 -54 -48 -42 -39 -33 -24 -18 -13 -8 -6" font-size="10.8">GNF_1_SmoothMuscle</text><text transform="translate(1013.31 492.0) rotate(-90)" x="-89 -81 -73 -66 -60 -54 -48 -43 -37 -35 -29 -23 -21 -16 -10 -6" font-size="10.8">GNF_1_spinalcord</text><text transform="translate(1027.16 492.0) rotate(-90)" x="-133 -125 -117 -110 -104 -98 -92 -87 -81 -75 -72 -66 -60 -58 -52 -43 -41 -36 -30 -24 -19 -17 -11 -5" font-size="10.8">GNF_1_subthalamicnucleus</text><text transform="translate(1041.01 492.0) rotate(-90)" x="-162 -154 -146 -139 -133 -127 -121 -114 -108 -102 -96 -92 -90 -84 -80 -72 -66 -62 -57 -55 -50 -44 -42 -34 -28 -22 -16 -14 -12 -6" font-size="10.8">GNF_1_SuperiorCervicalGanglion</text><text transform="translate(1054.86 492.0) rotate(-90)" x="-111 -103 -95 -88 -82 -76 -70 -63 -57 -48 -42 -36 -32 -26 -24 -18 -12 -6" font-size="10.8">GNF_1_TemporalLobe</text><text transform="translate(1068.71 492.0) rotate(-90)" x="-65 -57 -49 -42 -36 -30 -24 -21 -15 -10 -7 -5" font-size="10.8">GNF_1_testis</text><text transform="translate(1082.56 492.0) rotate(-90)" x="-114 -106 -98 -91 -85 -79 -73 -66 -60 -55 -52 -50 -45 -37 -31 -27 -18 -10 -4 -2" font-size="10.8">GNF_1_TestisGermCell</text><text transform="translate(1096.42 492.0) rotate(-90)" x="-114 -106 -98 -91 -85 -79 -73 -66 -60 -55 -52 -50 -45 -42 -36 -33 -27 -23 -18 -15 -13 -10 -8 -2" font-size="10.8">GNF_1_TestisInterstitial</text><text transform="translate(1110.27 492.0) rotate(-90)" x="-118 -110 -102 -95 -89 -83 -77 -70 -64 -59 -56 -54 -49 -43 -37 -32 -26 -24 -18 -10 -4 -2" font-size="10.8">GNF_1_TestisLeydigCell</text><text transform="translate(1124.12 492.0) rotate(-90)" x="-164 -156 -148 -141 -135 -129 -123 -116 -110 -105 -102 -100 -95 -88 -82 -73 -71 -65 -63 -60 -54 -50 -44 -38 -33 -26 -20 -14 -8 -6" font-size="10.8">GNF_1_TestisSeminiferousTubule</text><text transform="translate(1137.97 492.0) rotate(-90)" x="-88 -80 -72 -65 -59 -53 -47 -40 -34 -28 -26 -20 -11 -5" font-size="10.8">GNF_1_Thalamus</text><text transform="translate(1151.82 492.0) rotate(-90)" x="-75 -67 -59 -52 -46 -40 -34 -31 -25 -20 -11 -5" font-size="10.8">GNF_1_thymus</text><text transform="translate(1165.67 492.0) rotate(-90)" x="-77 -69 -61 -54 -48 -42 -36 -29 -23 -18 -14 -8 -6" font-size="10.8">GNF_1_Thyroid</text><text transform="translate(1179.52 492.0) rotate(-90)" x="-87 -79 -71 -64 -58 -52 -46 -39 -31 -23 -15 -7" font-size="10.8">GNF_1_TONGUE</text><text transform="translate(1193.37 492.0) rotate(-90)" x="-69 -61 -53 -46 -40 -34 -28 -21 -15 -9 -4 -2" font-size="10.8">GNF_1_Tonsil</text><text transform="translate(1207.22 492.0) rotate(-90)" x="-77 -69 -61 -54 -48 -42 -36 -33 -29 -23 -18 -12 -6" font-size="10.8">GNF_1_trachea</text><text transform="translate(1221.07 492.0) rotate(-90)" x="-133 -125 -117 -110 -104 -98 -92 -85 -81 -79 -73 -67 -58 -56 -50 -44 -42 -34 -28 -22 -16 -14 -12 -6" font-size="10.8">GNF_1_TrigeminalGanglion</text><text transform="translate(1234.93 492.0) rotate(-90)" x="-73 -65 -57 -50 -44 -38 -32 -24 -21 -15 -11 -5" font-size="10.8">GNF_1_Uterus</text><text transform="translate(1248.78 492.0) rotate(-90)" x="-108 -100 -92 -85 -79 -73 -67 -59 -56 -50 -46 -40 -35 -27 -21 -17 -11 -5" font-size="10.8">GNF_1_UterusCorpus</text><text transform="translate(1262.63 492.0) rotate(-90)" x="-117 -109 -101 -94 -88 -82 -76 -66 -58 -50 -44 -37 -30 -24 -16 -8" font-size="10.8">GNF_1_WHOLEBLOOD</text><text transform="translate(1276.48 492.0) rotate(-90)" x="-96 -88 -80 -73 -67 -61 -55 -45 -39 -33 -31 -25 -18 -14 -8 -6" font-size="10.8">GNF_1_WholeBrain</text><text transform="translate(1290.33 492.0) rotate(-90)" x="-139 -131 -123 -116 -110 -104 -98 -92 -86 -80 -74 -67 -61 -59 -54 -45 -39 -33 -27 -21 -19 -13 -8 -5" font-size="10.8">GNF_2_721_B_lymphoblasts</text><text transform="translate(1304.18 492.0) rotate(-90)" x="-103 -95 -87 -80 -74 -68 -62 -55 -47 -44 -37 -29 -21 -14 -7" font-size="10.8">GNF_2_ADIPOCYTE</text><text transform="translate(1318.03 492.0) rotate(-90)" x="-110 -102 -94 -87 -81 -75 -69 -62 -56 -52 -46 -40 -34 -32 -24 -18 -14 -11 -5" font-size="10.8">GNF_2_AdrenalCortex</text><text transform="translate(1331.88 492.0) rotate(-90)" x="-103 -95 -87 -80 -74 -68 -62 -56 -50 -46 -40 -34 -28 -26 -20 -18 -12 -6" font-size="10.8">GNF_2_adrenalgland</text><text transform="translate(1345.73 492.0) rotate(-90)" x="-88 -80 -72 -65 -59 -53 -47 -40 -31 -26 -20 -14 -8 -6" font-size="10.8">GNF_2_Amygdala</text><text transform="translate(1359.58 492.0) rotate(-90)" x="-85 -77 -69 -62 -56 -50 -44 -37 -31 -25 -19 -13 -7 -5" font-size="10.8">GNF_2_Appendix</text><text transform="translate(1373.44 492.0) rotate(-90)" x="-135 -127 -119 -112 -106 -100 -94 -88 -85 -81 -79 -73 -68 -62 -56 -53 -49 -47 -42 -36 -34 -28 -24 -18 -12 -6" font-size="10.8">GNF_2_atrioventricularnode</text><text transform="translate(1387.29 492.0) rotate(-90)" x="-131 -123 -115 -108 -102 -96 -90 -83 -74 -70 -62 -54 -48 -42 -36 -27 -22 -16 -14 -8 -6" font-size="10.8">GNF_2_BM-CD33+Myeloid</text><text transform="translate(1401.14 492.0) rotate(-90)" x="-95 -87 -79 -72 -66 -60 -54 -47 -38 -34 -26 -18 -12 -6" font-size="10.8">GNF_2_BM-CD34+</text><text transform="translate(1414.99 492.0) rotate(-90)" x="-162 -154 -146 -139 -133 -127 -121 -114 -105 -101 -93 -85 -79 -73 -67 -60 -54 -50 -48 -43 -36 -32 -27 -24 -18 -14 -8 -6" font-size="10.8">GNF_2_BM-CD71+EarlyErythroid</text><text transform="translate(1428.84 492.0) rotate(-90)" x="-153 -145 -137 -130 -124 -118 -112 -105 -96 -92 -84 -76 -70 -64 -58 -52 -45 -39 -33 -27 -24 -18 -12 -10 -8 -2" font-size="10.8">GNF_2_BM-CD105+Endothelial</text><text transform="translate(1442.69 492.0) rotate(-90)" x="-102 -94 -86 -79 -73 -67 -61 -55 -49 -43 -37 -28 -22 -18 -14 -8" font-size="10.8">GNF_2_bonemarrow</text><text transform="translate(1456.54 492.0) rotate(-90)" x="-145 -137 -129 -122 -116 -110 -104 -98 -94 -88 -82 -77 -71 -69 -63 -61 -55 -49 -47 -44 -38 -32 -30 -28 -22 -20 -15 -9 -7 -5" font-size="10.8">GNF_2_bronchialepithelialcells</text><text transform="translate(1470.39 492.0) rotate(-90)" x="-122 -114 -106 -99 -93 -87 -81 -73 -67 -63 -57 -55 -49 -44 -35 -30 -24 -19 -14 -11 -5" font-size="10.8">GNF_2_CardiacMyocytes</text><text transform="translate(1484.24 492.0) rotate(-90)" x="-115 -107 -99 -92 -86 -80 -74 -69 -63 -57 -51 -45 -42 -36 -30 -24 -19 -17 -11 -5" font-size="10.8">GNF_2_caudatenucleus</text><text transform="translate(1498.09 492.0) rotate(-90)" x="-93 -85 -77 -70 -64 -58 -52 -47 -41 -37 -31 -25 -19 -17 -15 -9" font-size="10.8">GNF_2_cerebellum</text><text transform="translate(1511.95 492.0) rotate(-90)" x="-145 -137 -129 -122 -116 -110 -104 -96 -90 -86 -80 -74 -68 -66 -64 -58 -49 -42 -36 -30 -24 -18 -13 -11 -5" font-size="10.8">GNF_2_CerebellumPeduncles</text><text transform="translate(1525.80 492.0) rotate(-90)" x="-107 -99 -91 -84 -78 -72 -66 -61 -59 -57 -55 -49 -45 -40 -34 -28 -22 -16 -14 -12 -6" font-size="10.8">GNF_2_ciliaryganglion</text><text transform="translate(1539.65 492.0) rotate(-90)" x="-118 -110 -102 -95 -89 -83 -77 -69 -67 -61 -55 -49 -47 -41 -38 -32 -24 -18 -14 -11 -5" font-size="10.8">GNF_2_CingulateCortex</text><text transform="translate(1553.50 492.0) rotate(-90)" x="-169 -161 -153 -146 -140 -134 -128 -120 -114 -112 -106 -102 -96 -91 -88 -82 -80 -73 -67 -61 -55 -49 -44 -38 -34 -29 -27 -21 -15 -6" font-size="10.8">GNF_2_ColorectalAdenocarcinoma</text><text transform="translate(1567.35 492.0) rotate(-90)" x="-65 -57 -49 -42 -36 -30 -24 -16 -8" font-size="10.8">GNF_2_DRG</text><text transform="translate(1581.20 492.0) rotate(-90)" x="-85 -77 -69 -62 -56 -50 -44 -41 -35 -32 -26 -24 -18 -14 -8 -6" font-size="10.8">GNF_2_fetalbrain</text><text transform="translate(1595.05 492.0) rotate(-90)" x="-80 -72 -64 -57 -51 -45 -39 -36 -30 -27 -21 -19 -17 -15 -10 -4" font-size="10.8">GNF_2_fetalliver</text><text transform="translate(1608.90 492.0) rotate(-90)" x="-81 -73 -65 -58 -52 -46 -40 -37 -31 -28 -22 -20 -18 -12 -6" font-size="10.8">GNF_2_fetallung</text><text transform="translate(1622.75 492.0) rotate(-90)" x="-97 -89 -81 -74 -68 -62 -56 -53 -47 -44 -38 -36 -29 -23 -18 -14 -8 -6" font-size="10.8">GNF_2_fetalThyroid</text><text transform="translate(1636.60 492.0) rotate(-90)" x="-107 -99 -91 -84 -78 -72 -66 -60 -58 -52 -46 -40 -35 -29 -23 -21 -19 -17 -11 -5" font-size="10.8">GNF_2_globuspallidus</text><text transform="translate(1650.46 492.0) rotate(-90)" x="-68 -60 -52 -45 -39 -33 -27 -19 -13 -7 -3" font-size="10.8">GNF_2_Heart</text><text transform="translate(1664.31 492.0) rotate(-90)" x="-109 -101 -93 -86 -80 -74 -68 -60 -55 -49 -43 -40 -34 -28 -26 -20 -11 -5" font-size="10.8">GNF_2_Hypothalamus</text><text transform="translate(1678.16 492.0) rotate(-90)" x="-71 -63 -55 -48 -42 -36 -30 -25 -23 -17 -11 -5" font-size="10.8">GNF_2_kidney</text><text transform="translate(1692.01 492.0) rotate(-90)" x="-211 -203 -195 -188 -182 -176 -170 -168 -162 -156 -151 -145 -136 -134 -128 -123 -117 -113 -107 -101 -99 -94 -85 -80 -74 -72 -66 -60 -54 -48 -42 -36 -31 -27 -22 -16 -10 -4" font-size="10.8">GNF_2_leukemiachronicmyelogenous(k562)</text><text transform="translate(1705.86 492.0) rotate(-90)" x="-180 -172 -164 -157 -151 -145 -139 -137 -131 -125 -120 -114 -105 -103 -97 -95 -90 -81 -75 -69 -63 -57 -55 -49 -44 -41 -39 -34 -30 -21 -15 -13 -10 -4" font-size="10.8">GNF_2_leukemialymphoblastic(molt4)</text><text transform="translate(1719.71 492.0) rotate(-90)" x="-175 -167 -159 -152 -146 -140 -134 -132 -126 -120 -115 -109 -100 -98 -92 -86 -82 -76 -67 -62 -56 -54 -48 -43 -38 -35 -33 -28 -24 -18 -16 -10 -4" font-size="10.8">GNF_2_leukemiapromyelocytic(hl60)</text><text transform="translate(1733.56 492.0) rotate(-90)" x="-64 -56 -48 -41 -35 -29 -23 -17 -15 -10 -4" font-size="10.8">GNF_2_Liver</text><text transform="translate(1747.41 492.0) rotate(-90)" x="-65 -57 -49 -42 -36 -30 -24 -18 -12 -6" font-size="10.8">GNF_2_Lung</text><text transform="translate(1761.26 492.0) rotate(-90)" x="-93 -85 -77 -70 -64 -58 -52 -50 -45 -36 -30 -24 -18 -12 -6" font-size="10.8">GNF_2_lymphnode</text><text transform="translate(1775.11 492.0) rotate(-90)" x="-152 -144 -136 -129 -123 -117 -111 -109 -104 -95 -89 -83 -77 -68 -62 -56 -50 -46 -41 -39 -36 -33 -28 -20 -14 -8 -2" font-size="10.8">GNF_2_lymphomaburkittsDaudi</text><text transform="translate(1788.97 492.0) rotate(-90)" x="-142 -134 -126 -119 -113 -107 -101 -99 -94 -85 -79 -73 -67 -58 -52 -46 -40 -36 -31 -29 -26 -23 -18 -10 -4 -2" font-size="10.8">GNF_2_lymphomaburkittsRaji</text><text transform="translate(1802.82 492.0) rotate(-90)" x="-127 -119 -111 -104 -98 -92 -86 -77 -71 -65 -59 -57 -55 -49 -41 -35 -33 -27 -21 -15 -9 -6" font-size="10.8">GNF_2_MedullaOblongata</text><text transform="translate(1816.67 492.0) rotate(-90)" x="-104 -96 -88 -81 -75 -69 -63 -55 -50 -45 -43 -37 -35 -32 -26 -24 -18 -12 -6" font-size="10.8">GNF_2_OccipitalLobe</text><text transform="translate(1830.52 492.0) rotate(-90)" x="-104 -96 -88 -81 -75 -69 -63 -55 -53 -50 -44 -39 -36 -30 -26 -21 -14 -8 -6" font-size="10.8">GNF_2_OlfactoryBulb</text><text transform="translate(1844.37 492.0) rotate(-90)" x="-69 -61 -53 -46 -40 -34 -28 -20 -15 -9 -5" font-size="10.8">GNF_2_Ovary</text><text transform="translate(1858.22 492.0) rotate(-90)" x="-86 -78 -70 -63 -57 -51 -45 -38 -32 -26 -21 -17 -11 -5" font-size="10.8">GNF_2_Pancreas</text><text transform="translate(1872.07 492.0) rotate(-90)" x="-115 -107 -99 -92 -86 -80 -74 -67 -61 -55 -50 -46 -40 -34 -31 -29 -24 -21 -16 -14 -8 -5" font-size="10.8">GNF_2_PancreaticIslets</text><text transform="translate(1885.92 492.0) rotate(-90)" x="-101 -93 -85 -78 -72 -66 -60 -53 -47 -43 -41 -35 -32 -26 -24 -18 -12 -6" font-size="10.8">GNF_2_ParietalLobe</text><text transform="translate(1899.77 492.0) rotate(-90)" x="-169 -161 -153 -146 -140 -134 -128 -121 -114 -110 -103 -95 -87 -80 -74 -68 -60 -54 -48 -45 -41 -39 -36 -34 -29 -23 -15 -9 -7 -5" font-size="10.8">GNF_2_PB-BDCA4+Dentritic_Cells</text><text transform="translate(1913.62 492.0) rotate(-90)" x="-114 -106 -98 -91 -85 -79 -73 -66 -59 -55 -47 -39 -33 -27 -20 -15 -9 -7 -5" font-size="10.8">GNF_2_PB-CD4+Tcells</text><text transform="translate(1927.48 492.0) rotate(-90)" x="-114 -106 -98 -91 -85 -79 -73 -66 -59 -55 -47 -39 -33 -27 -20 -15 -9 -7 -5" font-size="10.8">GNF_2_PB-CD8+Tcells</text><text transform="translate(1941.33 492.0) rotate(-90)" x="-144 -136 -128 -121 -115 -109 -103 -96 -89 -85 -77 -69 -63 -57 -51 -42 -36 -30 -24 -19 -14 -11 -5" font-size="10.8">GNF_2_PB-CD14+Monocytes</text><text transform="translate(1955.18 492.0) rotate(-90)" x="-120 -112 -104 -97 -91 -85 -79 -72 -65 -61 -53 -45 -39 -33 -27 -20 -15 -9 -7 -5" font-size="10.8">GNF_2_PB-CD19+Bcells</text><text transform="translate(1969.03 492.0) rotate(-90)" x="-131 -123 -115 -108 -102 -96 -90 -83 -76 -72 -64 -56 -50 -44 -38 -30 -23 -15 -9 -7 -5" font-size="10.8">GNF_2_PB-CD56+NKCells</text><text transform="translate(1982.88 492.0) rotate(-90)" x="-79 -71 -63 -56 -50 -44 -38 -31 -29 -26 -20 -18 -15 -9 -5" font-size="10.8">GNF_2_Pituitary</text><text transform="translate(1996.73 492.0) rotate(-90)" x="-98 -90 -82 -75 -69 -63 -57 -50 -44 -37 -29 -22 -14 -7" font-size="10.8">GNF_2_PLACENTA</text><text transform="translate(2010.58 492.0) rotate(-90)" x="-65 -57 -49 -42 -36 -30 -24 -17 -11 -5" font-size="10.8">GNF_2_Pons</text><text transform="translate(2024.43 492.0) rotate(-90)" x="-120 -112 -104 -97 -91 -85 -79 -72 -68 -62 -59 -55 -49 -43 -40 -34 -32 -24 -18 -14 -11 -5" font-size="10.8">GNF_2_PrefrontalCortex</text><text transform="translate(2038.28 492.0) rotate(-90)" x="-81 -73 -65 -58 -52 -46 -40 -33 -29 -23 -18 -15 -9 -6" font-size="10.8">GNF_2_Prostate</text><text transform="translate(2052.13 492.0) rotate(-90)" x="-102 -94 -86 -79 -73 -67 -61 -56 -50 -48 -46 -41 -35 -31 -26 -20 -18 -12 -6" font-size="10.8">GNF_2_salivarygland</text><text transform="translate(2065.99 492.0) rotate(-90)" x="-111 -103 -95 -88 -82 -76 -70 -63 -58 -52 -50 -44 -41 -35 -33 -24 -18 -13 -8 -6" font-size="10.8">GNF_2_SkeletalMuscle</text><text transform="translate(2079.84 492.0) rotate(-90)" x="-59 -51 -43 -36 -30 -24 -18 -13 -8 -6" font-size="10.8">GNF_2_skin</text><text transform="translate(2093.69 492.0) rotate(-90)" x="-111 -103 -95 -88 -82 -76 -70 -63 -54 -48 -42 -39 -33 -24 -18 -13 -8 -6" font-size="10.8">GNF_2_SmoothMuscle</text><text transform="translate(2107.54 492.0) rotate(-90)" x="-89 -81 -73 -66 -60 -54 -48 -43 -37 -35 -29 -23 -21 -16 -10 -6" font-size="10.8">GNF_2_spinalcord</text><text transform="translate(2121.39 492.0) rotate(-90)" x="-133 -125 -117 -110 -104 -98 -92 -87 -81 -75 -72 -66 -60 -58 -52 -43 -41 -36 -30 -24 -19 -17 -11 -5" font-size="10.8">GNF_2_subthalamicnucleus</text><text transform="translate(2135.24 492.0) rotate(-90)" x="-162 -154 -146 -139 -133 -127 -121 -114 -108 -102 -96 -92 -90 -84 -80 -72 -66 -62 -57 -55 -50 -44 -42 -34 -28 -22 -16 -14 -12 -6" font-size="10.8">GNF_2_SuperiorCervicalGanglion</text><text transform="translate(2149.09 492.0) rotate(-90)" x="-111 -103 -95 -88 -82 -76 -70 -63 -57 -48 -42 -36 -32 -26 -24 -18 -12 -6" font-size="10.8">GNF_2_TemporalLobe</text><text transform="translate(2162.94 492.0) rotate(-90)" x="-65 -57 -49 -42 -36 -30 -24 -21 -15 -10 -7 -5" font-size="10.8">GNF_2_testis</text><text transform="translate(2176.79 492.0) rotate(-90)" x="-114 -106 -98 -91 -85 -79 -73 -66 -60 -55 -52 -50 -45 -37 -31 -27 -18 -10 -4 -2" font-size="10.8">GNF_2_TestisGermCell</text><text transform="translate(2190.64 492.0) rotate(-90)" x="-114 -106 -98 -91 -85 -79 -73 -66 -60 -55 -52 -50 -45 -42 -36 -33 -27 -23 -18 -15 -13 -10 -8 -2" font-size="10.8">GNF_2_TestisInterstitial</text><text transform="translate(2204.50 492.0) rotate(-90)" x="-118 -110 -102 -95 -89 -83 -77 -70 -64 -59 -56 -54 -49 -43 -37 -32 -26 -24 -18 -10 -4 -2" font-size="10.8">GNF_2_TestisLeydigCell</text><text transform="translate(2218.35 492.0) rotate(-90)" x="-164 -156 -148 -141 -135 -129 -123 -116 -110 -105 -102 -100 -95 -88 -82 -73 -71 -65 -63 -60 -54 -50 -44 -38 -33 -26 -20 -14 -8 -6" font-size="10.8">GNF_2_TestisSeminiferousTubule</text><text transform="translate(2232.20 492.0) rotate(-90)" x="-88 -80 -72 -65 -59 -53 -47 -40 -34 -28 -26 -20 -11 -5" font-size="10.8">GNF_2_Thalamus</text><text transform="translate(2246.05 492.0) rotate(-90)" x="-75 -67 -59 -52 -46 -40 -34 -31 -25 -20 -11 -5" font-size="10.8">GNF_2_thymus</text><text transform="translate(2259.90 492.0) rotate(-90)" x="-77 -69 -61 -54 -48 -42 -36 -29 -23 -18 -14 -8 -6" font-size="10.8">GNF_2_Thyroid</text><text transform="translate(2273.75 492.0) rotate(-90)" x="-87 -79 -71 -64 -58 -52 -46 -39 -31 -23 -15 -7" font-size="10.8">GNF_2_TONGUE</text><text transform="translate(2287.60 492.0) rotate(-90)" x="-69 -61 -53 -46 -40 -34 -28 -21 -15 -9 -4 -2" font-size="10.8">GNF_2_Tonsil</text><text transform="translate(2301.45 492.0) rotate(-90)" x="-77 -69 -61 -54 -48 -42 -36 -33 -29 -23 -18 -12 -6" font-size="10.8">GNF_2_trachea</text><text transform="translate(2315.30 492.0) rotate(-90)" x="-133 -125 -117 -110 -104 -98 -92 -85 -81 -79 -73 -67 -58 -56 -50 -44 -42 -34 -28 -22 -16 -14 -12 -6" font-size="10.8">GNF_2_TrigeminalGanglion</text><text transform="translate(2329.15 492.0) rotate(-90)" x="-73 -65 -57 -50 -44 -38 -32 -24 -21 -15 -11 -5" font-size="10.8">GNF_2_Uterus</text><text transform="translate(2343.01 492.0) rotate(-90)" x="-108 -100 -92 -85 -79 -73 -67 -59 -56 -50 -46 -40 -35 -27 -21 -17 -11 -5" font-size="10.8">GNF_2_UterusCorpus</text><text transform="translate(2356.86 492.0) rotate(-90)" x="-117 -109 -101 -94 -88 -82 -76 -66 -58 -50 -44 -37 -30 -24 -16 -8" font-size="10.8">GNF_2_WHOLEBLOOD</text><text transform="translate(2370.71 492.0) rotate(-90)" x="-96 -88 -80 -73 -67 -61 -55 -45 -39 -33 -31 -25 -18 -14 -8 -6" font-size="10.8">GNF_2_WholeBrain</text><text transform="translate(2384.56 492.0) rotate(-90)" x="-77 -69 -61 -58 -52 -46 -40 -34 -28 -22 -16 -10 -6" font-size="10.8">NCI60_1_786-0</text><text transform="translate(2398.41 492.0) rotate(-90)" x="-74 -66 -58 -55 -49 -43 -37 -31 -25 -18 -12 -6" font-size="10.8">NCI60_1_A498</text><text transform="translate(2412.26 492.0) rotate(-90)" x="-110 -102 -94 -91 -85 -79 -73 -67 -61 -54 -48 -42 -36 -30 -23 -16 -8" font-size="10.8">NCI60_1_A549_ATCC</text><text transform="translate(2426.11 492.0) rotate(-90)" x="-80 -72 -64 -61 -55 -49 -43 -37 -31 -24 -16 -8" font-size="10.8">NCI60_1_ACHN</text><text transform="translate(2439.96 492.0) rotate(-90)" x="-85 -77 -69 -66 -60 -54 -48 -42 -36 -29 -22 -18 -12 -6" font-size="10.8">NCI60_1_BT-549</text><text transform="translate(2453.81 492.0) rotate(-90)" x="-84 -76 -68 -65 -59 -53 -47 -41 -35 -27 -20 -13 -10 -6" font-size="10.8">NCI60_1_CAKI-1</text><text transform="translate(2467.66 492.0) rotate(-90)" x="-108 -100 -92 -89 -83 -77 -71 -65 -59 -51 -43 -35 -28 -24 -16 -9" font-size="10.8">NCI60_1_CCRF-CEM</text><text transform="translate(2481.51 492.0) rotate(-90)" x="-97 -89 -81 -78 -72 -66 -60 -54 -48 -40 -32 -26 -18 -12 -6" font-size="10.8">NCI60_1_COLO205</text><text transform="translate(2495.37 492.0) rotate(-90)" x="-87 -79 -71 -68 -62 -56 -50 -44 -38 -30 -22 -18 -12 -6" font-size="10.8">NCI60_1_DU-145</text><text transform="translate(2509.22 492.0) rotate(-90)" x="-77 -69 -61 -58 -52 -46 -40 -34 -28 -21 -14 -7" font-size="10.8">NCI60_1_EKVX</text><text transform="translate(2523.07 492.0) rotate(-90)" x="-101 -93 -85 -82 -76 -70 -64 -58 -52 -44 -36 -28 -24 -18 -12 -6" font-size="10.8">NCI60_1_HCC-2998</text><text transform="translate(2536.92 492.0) rotate(-90)" x="-94 -86 -78 -75 -69 -63 -57 -51 -45 -37 -29 -22 -18 -12 -6" font-size="10.8">NCI60_1_HCT-116</text><text transform="translate(2550.77 492.0) rotate(-90)" x="-88 -80 -72 -69 -63 -57 -51 -45 -39 -31 -23 -16 -12 -6" font-size="10.8">NCI60_1_HCT-15</text><text transform="translate(2564.62 492.0) rotate(-90)" x="-79 -71 -63 -60 -54 -48 -42 -36 -30 -22 -16 -12 -6" font-size="10.8">NCI60_1_HL-60</text><text transform="translate(2578.47 492.0) rotate(-90)" x="-88 -80 -72 -69 -63 -57 -51 -45 -39 -31 -23 -16 -12 -6" font-size="10.8">NCI60_1_HOP-92</text><text transform="translate(2592.32 492.0) rotate(-90)" x="-88 -80 -72 -69 -63 -57 -51 -45 -39 -31 -23 -16 -12 -6" font-size="10.8">NCI60_1_HOP-62</text><text transform="translate(2606.17 492.0) rotate(-90)" x="-89 -81 -73 -70 -64 -58 -52 -46 -40 -32 -25 -19 -13 -7" font-size="10.8">NCI60_1_HS578T</text><text transform="translate(2620.03 492.0) rotate(-90)" x="-76 -68 -60 -57 -51 -45 -39 -33 -27 -19 -12 -6" font-size="10.8">NCI60_1_HT29</text><text transform="translate(2633.88 492.0) rotate(-90)" x="-117 -109 -101 -98 -92 -86 -80 -74 -68 -65 -57 -49 -41 -34 -28 -22 -18 -12 -6" font-size="10.8">NCI60_1_IGROV1_rep1</text><text transform="translate(2647.73 492.0) rotate(-90)" x="-117 -109 -101 -98 -92 -86 -80 -74 -68 -65 -57 -49 -41 -34 -28 -22 -18 -12 -6" font-size="10.8">NCI60_1_IGROV1_rep2</text><text transform="translate(2661.58 492.0) rotate(-90)" x="-78 -70 -62 -59 -53 -47 -41 -35 -29 -22 -18 -12 -6" font-size="10.8">NCI60_1_K-562</text><text transform="translate(2675.43 492.0) rotate(-90)" x="-77 -69 -61 -58 -52 -46 -40 -34 -28 -21 -12 -6" font-size="10.8">NCI60_1_KM12</text><text transform="translate(2689.28 492.0) rotate(-90)" x="-92 -84 -76 -73 -67 -61 -55 -49 -43 -37 -29 -22 -19 -10 -3" font-size="10.8">NCI60_1_LOXIMVI</text><text transform="translate(2703.13 492.0) rotate(-90)" x="-70 -62 -54 -51 -45 -39 -33 -27 -21 -12 -6" font-size="10.8">NCI60_1_M14</text><text transform="translate(2716.98 492.0) rotate(-90)" x="-106 -98 -90 -87 -81 -75 -69 -63 -57 -48 -41 -35 -26 -19 -15 -9" font-size="10.8">NCI60_1_MALME-3M</text><text transform="translate(2730.83 492.0) rotate(-90)" x="-79 -71 -63 -60 -54 -48 -42 -36 -30 -21 -13 -6" font-size="10.8">NCI60_1_MCF7</text><text transform="translate(2744.68 492.0) rotate(-90)" x="-115 -107 -99 -96 -90 -84 -78 -72 -66 -57 -49 -42 -38 -29 -22 -18 -12 -6" font-size="10.8">NCI60_1_MDA-MB-435</text><text transform="translate(2758.53 492.0) rotate(-90)" x="-151 -143 -135 -132 -126 -120 -114 -108 -102 -93 -85 -78 -74 -65 -58 -54 -48 -42 -36 -30 -23 -16 -8" font-size="10.8">NCI60_1_MDA-MB-231_ATCC</text><text transform="translate(2772.39 492.0) rotate(-90)" x="-85 -77 -69 -66 -60 -54 -48 -42 -36 -27 -19 -12 -8" font-size="10.8">NCI60_1_MDA-N</text><text transform="translate(2786.24 492.0) rotate(-90)" x="-89 -81 -73 -70 -64 -58 -52 -46 -40 -31 -23 -17 -10 -6" font-size="10.8">NCI60_1_MOLT-4</text><text transform="translate(2800.09 492.0) rotate(-90)" x="-121 -113 -105 -102 -96 -90 -84 -78 -72 -64 -56 -53 -49 -42 -34 -26 -22 -14 -7" font-size="10.8">NCI60_1_NCI-ADR-RES</text><text transform="translate(2813.94 492.0) rotate(-90)" x="-98 -90 -82 -79 -73 -67 -61 -55 -49 -41 -33 -30 -26 -18 -12 -6" font-size="10.8">NCI60_1_NCI-H226</text><text transform="translate(2827.79 492.0) rotate(-90)" x="-107 -99 -91 -88 -82 -76 -70 -64 -58 -50 -42 -39 -35 -27 -21 -15 -9" font-size="10.8">NCI60_1_NCI-H322M</text><text transform="translate(2841.64 492.0) rotate(-90)" x="-98 -90 -82 -79 -73 -67 -61 -55 -49 -41 -33 -30 -26 -18 -12 -6" font-size="10.8">NCI60_1_NCI-H460</text><text transform="translate(2855.49 492.0) rotate(-90)" x="-98 -90 -82 -79 -73 -67 -61 -55 -49 -41 -33 -30 -26 -18 -12 -6" font-size="10.8">NCI60_1_NCI-H522</text><text transform="translate(2869.34 492.0) rotate(-90)" x="-97 -89 -81 -78 -72 -66 -60 -54 -48 -40 -33 -25 -18 -10 -6" font-size="10.8">NCI60_1_OVCAR-8</text><text transform="translate(2883.19 492.0) rotate(-90)" x="-97 -89 -81 -78 -72 -66 -60 -54 -48 -40 -33 -25 -18 -10 -6" font-size="10.8">NCI60_1_OVCAR-5</text><text transform="translate(2897.05 492.0) rotate(-90)" x="-97 -89 -81 -78 -72 -66 -60 -54 -48 -40 -33 -25 -18 -10 -6" font-size="10.8">NCI60_1_OVCAR-4</text><text transform="translate(2910.90 492.0) rotate(-90)" x="-97 -89 -81 -78 -72 -66 -60 -54 -48 -40 -33 -25 -18 -10 -6" font-size="10.8">NCI60_1_OVCAR-3</text><text transform="translate(2924.75 492.0) rotate(-90)" x="-74 -66 -58 -55 -49 -43 -37 -31 -25 -18 -10 -6" font-size="10.8">NCI60_1_PC-3</text><text transform="translate(2938.60 492.0) rotate(-90)" x="-104 -96 -88 -85 -79 -73 -67 -61 -55 -47 -40 -31 -28 -24 -18 -12 -6" font-size="10.8">NCI60_1_RPMI-8226</text><text transform="translate(2952.45 492.0) rotate(-90)" x="-93 -85 -77 -74 -68 -62 -56 -50 -44 -36 -29 -22 -18 -12 -6" font-size="10.8">NCI60_1_RXF-393</text><text transform="translate(2966.30 492.0) rotate(-90)" x="-85 -77 -69 -66 -60 -54 -48 -42 -36 -29 -22 -18 -12 -6" font-size="10.8">NCI60_1_SF-539</text><text transform="translate(2980.15 492.0) rotate(-90)" x="-85 -77 -69 -66 -60 -54 -48 -42 -36 -29 -22 -18 -12 -6" font-size="10.8">NCI60_1_SF-295</text><text transform="translate(2994.00 492.0) rotate(-90)" x="-85 -77 -69 -66 -60 -54 -48 -42 -36 -29 -22 -18 -12 -6" font-size="10.8">NCI60_1_SF-268</text><text transform="translate(3007.85 492.0) rotate(-90)" x="-105 -97 -89 -86 -80 -74 -68 -62 -56 -49 -42 -38 -29 -22 -16 -12 -6" font-size="10.8">NCI60_1_SK-MEL-28</text><text transform="translate(3021.70 492.0) rotate(-90)" x="-99 -91 -83 -80 -74 -68 -62 -56 -50 -43 -36 -32 -23 -16 -10 -6" font-size="10.8">NCI60_1_SK-MEL-5</text><text transform="translate(3035.56 492.0) rotate(-90)" x="-99 -91 -83 -80 -74 -68 -62 -56 -50 -43 -36 -32 -23 -16 -10 -6" font-size="10.8">NCI60_1_SK-MEL-2</text><text transform="translate(3049.41 492.0) rotate(-90)" x="-92 -84 -76 -73 -67 -61 -55 -49 -43 -36 -29 -25 -17 -10 -6" font-size="10.8">NCI60_1_SK-OV-3</text><text transform="translate(3063.26 492.0) rotate(-90)" x="-84 -76 -68 -65 -59 -53 -47 -41 -35 -28 -20 -14 -8" font-size="10.8">NCI60_1_SN12C</text><text transform="translate(3077.11 492.0) rotate(-90)" x="-87 -79 -71 -68 -62 -56 -50 -44 -38 -31 -23 -16 -12 -6" font-size="10.8">NCI60_1_SNB-75</text><text transform="translate(3090.96 492.0) rotate(-90)" x="-87 -79 -71 -68 -62 -56 -50 -44 -38 -31 -23 -16 -12 -6" font-size="10.8">NCI60_1_SNB-19</text><text transform="translate(3104.81 492.0) rotate(-90)" x="-64 -56 -48 -45 -39 -33 -27 -21 -15 -8" font-size="10.8">NCI60_1_SR</text><text transform="translate(3118.66 492.0) rotate(-90)" x="-88 -80 -72 -69 -63 -57 -51 -45 -39 -32 -22 -18 -12 -6" font-size="10.8">NCI60_1_SW-620</text><text transform="translate(3132.51 492.0) rotate(-90)" x="-76 -68 -60 -57 -51 -45 -39 -33 -27 -20 -14 -8" font-size="10.8">NCI60_1_T47D</text><text transform="translate(3146.36 492.0) rotate(-90)" x="-79 -71 -63 -60 -54 -48 -42 -36 -30 -23 -16 -12 -6" font-size="10.8">NCI60_1_TK-10</text><text transform="translate(3160.21 492.0) rotate(-90)" x="-75 -67 -59 -56 -50 -44 -38 -32 -26 -18 -12 -6" font-size="10.8">NCI60_1_U251</text><text transform="translate(3174.07 492.0) rotate(-90)" x="-102 -94 -86 -83 -77 -71 -65 -59 -53 -45 -38 -30 -22 -18 -12 -6" font-size="10.8">NCI60_1_UACC-257</text><text transform="translate(3187.92 492.0) rotate(-90)" x="-96 -88 -80 -77 -71 -65 -59 -53 -47 -39 -32 -24 -16 -12 -6" font-size="10.8">NCI60_1_UACC-62</text><text transform="translate(3201.77 492.0) rotate(-90)" x="-81 -73 -65 -62 -56 -50 -44 -38 -32 -24 -16 -12 -6" font-size="10.8">NCI60_1_UO-31</text><text transform="translate(26.0 274) rotate(-90)" text-anchor="middle" font-size="12">activity</text><text x="1695.5" y="48" text-anchor="middle" font-size="14" font-weight="bold">RXRG</text></g></svg></body></html>
